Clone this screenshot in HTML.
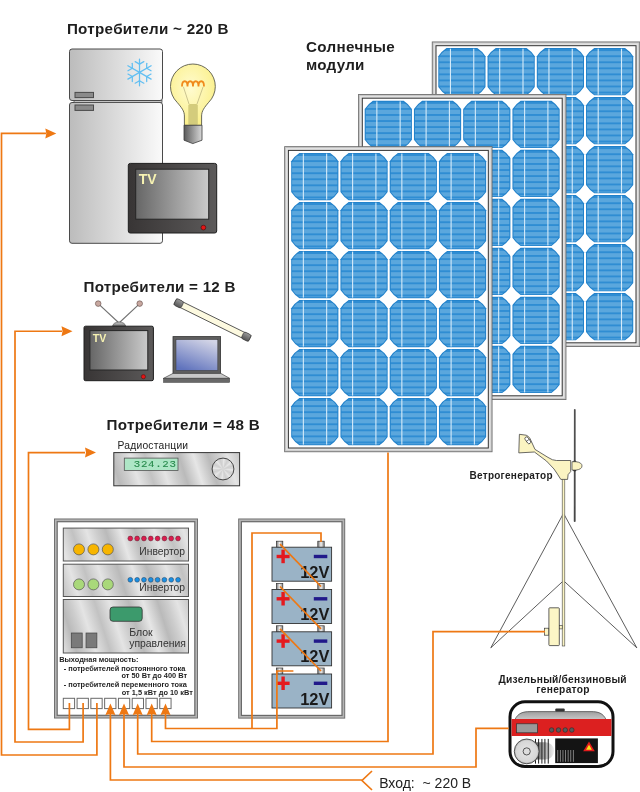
<!DOCTYPE html>
<html><head><meta charset="utf-8"><title>Scheme</title>
<style>
html,body{margin:0;padding:0;background:#fff;}
svg{display:block;will-change:transform;font-family:"Liberation Sans",sans-serif;}
</style></head>
<body>
<svg width="640" height="792" viewBox="0 0 640 792">

<defs>
 <linearGradient id="gFridge" x1="0" x2="1" y1="0" y2="0">
  <stop offset="0" stop-color="#bcbcbc"/><stop offset="1" stop-color="#fafafa"/></linearGradient>
 <linearGradient id="gTVbody" x1="0" x2="1" y1="0" y2="0">
  <stop offset="0" stop-color="#383535"/><stop offset="1" stop-color="#5c5a5a"/></linearGradient>
 <linearGradient id="gScreen" x1="0" x2="1" y1="0" y2="0">
  <stop offset="0" stop-color="#666"/><stop offset="1" stop-color="#cacaca"/></linearGradient>
 <linearGradient id="gLap" x1="0.75" x2="0.25" y1="0" y2="1">
  <stop offset="0" stop-color="#d2d4e6"/><stop offset="1" stop-color="#6073bd"/></linearGradient>
 <linearGradient id="gMetal" gradientUnits="userSpaceOnUse" x1="0" y1="0" x2="44" y2="-14" spreadMethod="reflect">
  <stop offset="0" stop-color="#c2c2c2"/><stop offset="0.3" stop-color="#e4e4e4"/>
  <stop offset="0.5" stop-color="#cdcdcd"/><stop offset="0.7" stop-color="#bababa"/>
  <stop offset="1" stop-color="#e6e6e6"/></linearGradient>
 <linearGradient id="gFrameV" x1="0" x2="1" y1="0" y2="0">
  <stop offset="0" stop-color="#8a8a8a"/><stop offset="0.5" stop-color="#e0e0e0"/><stop offset="1" stop-color="#9a9a9a"/></linearGradient>
 <radialGradient id="gBulb" cx="0.45" cy="0.4" r="0.6">
  <stop offset="0" stop-color="#fffbd0"/><stop offset="1" stop-color="#fbf08a"/></radialGradient>
 <linearGradient id="gBase" x1="0" x2="1" y1="0" y2="0">
  <stop offset="0" stop-color="#5a5a5a"/><stop offset="1" stop-color="#d8d8d8"/></linearGradient>
 <linearGradient id="gCap" x1="0" x2="0" y1="0" y2="1">
  <stop offset="0" stop-color="#9a9a9a"/><stop offset="1" stop-color="#555"/></linearGradient>
 <linearGradient id="gAnt" x1="0" x2="0" y1="0" y2="1">
  <stop offset="0" stop-color="#d0d0d0"/><stop offset="1" stop-color="#6a6a6a"/></linearGradient>
 <radialGradient id="gKnob" cx="0.5" cy="0.5" r="0.5">
  <stop offset="0" stop-color="#f4f4f4"/><stop offset="0.7" stop-color="#d0d0d0"/><stop offset="1" stop-color="#9a9a9a"/></radialGradient>
 <linearGradient id="gDome" x1="0" x2="0" y1="0" y2="1">
  <stop offset="0" stop-color="#9e9e9e"/><stop offset="1" stop-color="#c8c8c8"/></linearGradient>
 <radialGradient id="gFly" cx="0.5" cy="0.5" r="0.5">
  <stop offset="0" stop-color="#e6e6e6"/><stop offset="0.85" stop-color="#d6d6d6"/><stop offset="1" stop-color="#aaaaaa"/></radialGradient>
 <linearGradient id="gCyl" x1="0" x2="1" y1="0" y2="0">
  <stop offset="0" stop-color="#5a5a5a"/><stop offset="0.7" stop-color="#c8c8c8"/><stop offset="1" stop-color="#f0f0f0"/></linearGradient>
 <linearGradient id="gTerm" x1="0" x2="1" y1="0" y2="0">
  <stop offset="0" stop-color="#777"/><stop offset="0.5" stop-color="#f0f0f0"/><stop offset="1" stop-color="#888"/></linearGradient>
 <clipPath id="cellClip"><path transform="translate(0.85,0.85) scale(0.964)" d="M8.2,0 L39,0 Q43.9,3.2 47.2,8.2 L47.2,39 Q43.9,44 39,47.2 L8.2,47.2 Q3.3,44 0,39 L0,8.2 Q3.3,3.2 8.2,0 Z"/></clipPath>
</defs>
<rect x="431.8" y="41.5" width="208.4" height="305.5" fill="#6a6a6a"/>
<rect x="432.6" y="42.3" width="206.8" height="303.9" fill="#c2c2c2"/>
<rect x="433.6" y="43.3" width="204.8" height="301.9" fill="#e2e2e2"/>
<rect x="435.5" y="45.2" width="201.0" height="298.1" fill="#333"/>
<rect x="436.5" y="46.2" width="199.0" height="296.1" fill="#ffffff"/>
<g transform="translate(438.30,48.10)"><path d="M8.2,0 L39,0 Q43.9,3.2 47.2,8.2 L47.2,39 Q43.9,44 39,47.2 L8.2,47.2 Q3.3,44 0,39 L0,8.2 Q3.3,3.2 8.2,0 Z" fill="#2180c9"/>
  <g clip-path="url(#cellClip)" fill="#5ba7dd">
<rect x="0" y="0" width="47.2" height="47.2" fill="#2f8dd3"/><rect x="0.9" y="3.00" width="45.4" height="4.2"/><rect x="0.9" y="9.05" width="45.4" height="4.2"/><rect x="0.9" y="15.10" width="45.4" height="4.2"/><rect x="0.9" y="21.15" width="45.4" height="4.2"/><rect x="0.9" y="27.20" width="45.4" height="4.2"/><rect x="0.9" y="33.25" width="45.4" height="4.2"/><rect x="0.9" y="39.30" width="45.4" height="4.2"/><rect x="0.9" y="45.35" width="45.4" height="2.4"/></g><rect x="11.6" y="0.6" width="1.1" height="46" fill="#d5ebfa"/><rect x="34.9" y="0.6" width="1.1" height="46" fill="#d5ebfa"/></g>
<g transform="translate(487.55,48.10)"><path d="M8.2,0 L39,0 Q43.9,3.2 47.2,8.2 L47.2,39 Q43.9,44 39,47.2 L8.2,47.2 Q3.3,44 0,39 L0,8.2 Q3.3,3.2 8.2,0 Z" fill="#2180c9"/>
  <g clip-path="url(#cellClip)" fill="#5ba7dd">
<rect x="0" y="0" width="47.2" height="47.2" fill="#2f8dd3"/><rect x="0.9" y="3.00" width="45.4" height="4.2"/><rect x="0.9" y="9.05" width="45.4" height="4.2"/><rect x="0.9" y="15.10" width="45.4" height="4.2"/><rect x="0.9" y="21.15" width="45.4" height="4.2"/><rect x="0.9" y="27.20" width="45.4" height="4.2"/><rect x="0.9" y="33.25" width="45.4" height="4.2"/><rect x="0.9" y="39.30" width="45.4" height="4.2"/><rect x="0.9" y="45.35" width="45.4" height="2.4"/></g><rect x="11.6" y="0.6" width="1.1" height="46" fill="#d5ebfa"/><rect x="34.9" y="0.6" width="1.1" height="46" fill="#d5ebfa"/></g>
<g transform="translate(536.80,48.10)"><path d="M8.2,0 L39,0 Q43.9,3.2 47.2,8.2 L47.2,39 Q43.9,44 39,47.2 L8.2,47.2 Q3.3,44 0,39 L0,8.2 Q3.3,3.2 8.2,0 Z" fill="#2180c9"/>
  <g clip-path="url(#cellClip)" fill="#5ba7dd">
<rect x="0" y="0" width="47.2" height="47.2" fill="#2f8dd3"/><rect x="0.9" y="3.00" width="45.4" height="4.2"/><rect x="0.9" y="9.05" width="45.4" height="4.2"/><rect x="0.9" y="15.10" width="45.4" height="4.2"/><rect x="0.9" y="21.15" width="45.4" height="4.2"/><rect x="0.9" y="27.20" width="45.4" height="4.2"/><rect x="0.9" y="33.25" width="45.4" height="4.2"/><rect x="0.9" y="39.30" width="45.4" height="4.2"/><rect x="0.9" y="45.35" width="45.4" height="2.4"/></g><rect x="11.6" y="0.6" width="1.1" height="46" fill="#d5ebfa"/><rect x="34.9" y="0.6" width="1.1" height="46" fill="#d5ebfa"/></g>
<g transform="translate(586.05,48.10)"><path d="M8.2,0 L39,0 Q43.9,3.2 47.2,8.2 L47.2,39 Q43.9,44 39,47.2 L8.2,47.2 Q3.3,44 0,39 L0,8.2 Q3.3,3.2 8.2,0 Z" fill="#2180c9"/>
  <g clip-path="url(#cellClip)" fill="#5ba7dd">
<rect x="0" y="0" width="47.2" height="47.2" fill="#2f8dd3"/><rect x="0.9" y="3.00" width="45.4" height="4.2"/><rect x="0.9" y="9.05" width="45.4" height="4.2"/><rect x="0.9" y="15.10" width="45.4" height="4.2"/><rect x="0.9" y="21.15" width="45.4" height="4.2"/><rect x="0.9" y="27.20" width="45.4" height="4.2"/><rect x="0.9" y="33.25" width="45.4" height="4.2"/><rect x="0.9" y="39.30" width="45.4" height="4.2"/><rect x="0.9" y="45.35" width="45.4" height="2.4"/></g><rect x="11.6" y="0.6" width="1.1" height="46" fill="#d5ebfa"/><rect x="34.9" y="0.6" width="1.1" height="46" fill="#d5ebfa"/></g>
<g transform="translate(438.30,97.10)"><path d="M8.2,0 L39,0 Q43.9,3.2 47.2,8.2 L47.2,39 Q43.9,44 39,47.2 L8.2,47.2 Q3.3,44 0,39 L0,8.2 Q3.3,3.2 8.2,0 Z" fill="#2180c9"/>
  <g clip-path="url(#cellClip)" fill="#5ba7dd">
<rect x="0" y="0" width="47.2" height="47.2" fill="#2f8dd3"/><rect x="0.9" y="3.00" width="45.4" height="4.2"/><rect x="0.9" y="9.05" width="45.4" height="4.2"/><rect x="0.9" y="15.10" width="45.4" height="4.2"/><rect x="0.9" y="21.15" width="45.4" height="4.2"/><rect x="0.9" y="27.20" width="45.4" height="4.2"/><rect x="0.9" y="33.25" width="45.4" height="4.2"/><rect x="0.9" y="39.30" width="45.4" height="4.2"/><rect x="0.9" y="45.35" width="45.4" height="2.4"/></g><rect x="11.6" y="0.6" width="1.1" height="46" fill="#d5ebfa"/><rect x="34.9" y="0.6" width="1.1" height="46" fill="#d5ebfa"/></g>
<g transform="translate(487.55,97.10)"><path d="M8.2,0 L39,0 Q43.9,3.2 47.2,8.2 L47.2,39 Q43.9,44 39,47.2 L8.2,47.2 Q3.3,44 0,39 L0,8.2 Q3.3,3.2 8.2,0 Z" fill="#2180c9"/>
  <g clip-path="url(#cellClip)" fill="#5ba7dd">
<rect x="0" y="0" width="47.2" height="47.2" fill="#2f8dd3"/><rect x="0.9" y="3.00" width="45.4" height="4.2"/><rect x="0.9" y="9.05" width="45.4" height="4.2"/><rect x="0.9" y="15.10" width="45.4" height="4.2"/><rect x="0.9" y="21.15" width="45.4" height="4.2"/><rect x="0.9" y="27.20" width="45.4" height="4.2"/><rect x="0.9" y="33.25" width="45.4" height="4.2"/><rect x="0.9" y="39.30" width="45.4" height="4.2"/><rect x="0.9" y="45.35" width="45.4" height="2.4"/></g><rect x="11.6" y="0.6" width="1.1" height="46" fill="#d5ebfa"/><rect x="34.9" y="0.6" width="1.1" height="46" fill="#d5ebfa"/></g>
<g transform="translate(536.80,97.10)"><path d="M8.2,0 L39,0 Q43.9,3.2 47.2,8.2 L47.2,39 Q43.9,44 39,47.2 L8.2,47.2 Q3.3,44 0,39 L0,8.2 Q3.3,3.2 8.2,0 Z" fill="#2180c9"/>
  <g clip-path="url(#cellClip)" fill="#5ba7dd">
<rect x="0" y="0" width="47.2" height="47.2" fill="#2f8dd3"/><rect x="0.9" y="3.00" width="45.4" height="4.2"/><rect x="0.9" y="9.05" width="45.4" height="4.2"/><rect x="0.9" y="15.10" width="45.4" height="4.2"/><rect x="0.9" y="21.15" width="45.4" height="4.2"/><rect x="0.9" y="27.20" width="45.4" height="4.2"/><rect x="0.9" y="33.25" width="45.4" height="4.2"/><rect x="0.9" y="39.30" width="45.4" height="4.2"/><rect x="0.9" y="45.35" width="45.4" height="2.4"/></g><rect x="11.6" y="0.6" width="1.1" height="46" fill="#d5ebfa"/><rect x="34.9" y="0.6" width="1.1" height="46" fill="#d5ebfa"/></g>
<g transform="translate(586.05,97.10)"><path d="M8.2,0 L39,0 Q43.9,3.2 47.2,8.2 L47.2,39 Q43.9,44 39,47.2 L8.2,47.2 Q3.3,44 0,39 L0,8.2 Q3.3,3.2 8.2,0 Z" fill="#2180c9"/>
  <g clip-path="url(#cellClip)" fill="#5ba7dd">
<rect x="0" y="0" width="47.2" height="47.2" fill="#2f8dd3"/><rect x="0.9" y="3.00" width="45.4" height="4.2"/><rect x="0.9" y="9.05" width="45.4" height="4.2"/><rect x="0.9" y="15.10" width="45.4" height="4.2"/><rect x="0.9" y="21.15" width="45.4" height="4.2"/><rect x="0.9" y="27.20" width="45.4" height="4.2"/><rect x="0.9" y="33.25" width="45.4" height="4.2"/><rect x="0.9" y="39.30" width="45.4" height="4.2"/><rect x="0.9" y="45.35" width="45.4" height="2.4"/></g><rect x="11.6" y="0.6" width="1.1" height="46" fill="#d5ebfa"/><rect x="34.9" y="0.6" width="1.1" height="46" fill="#d5ebfa"/></g>
<g transform="translate(438.30,146.10)"><path d="M8.2,0 L39,0 Q43.9,3.2 47.2,8.2 L47.2,39 Q43.9,44 39,47.2 L8.2,47.2 Q3.3,44 0,39 L0,8.2 Q3.3,3.2 8.2,0 Z" fill="#2180c9"/>
  <g clip-path="url(#cellClip)" fill="#5ba7dd">
<rect x="0" y="0" width="47.2" height="47.2" fill="#2f8dd3"/><rect x="0.9" y="3.00" width="45.4" height="4.2"/><rect x="0.9" y="9.05" width="45.4" height="4.2"/><rect x="0.9" y="15.10" width="45.4" height="4.2"/><rect x="0.9" y="21.15" width="45.4" height="4.2"/><rect x="0.9" y="27.20" width="45.4" height="4.2"/><rect x="0.9" y="33.25" width="45.4" height="4.2"/><rect x="0.9" y="39.30" width="45.4" height="4.2"/><rect x="0.9" y="45.35" width="45.4" height="2.4"/></g><rect x="11.6" y="0.6" width="1.1" height="46" fill="#d5ebfa"/><rect x="34.9" y="0.6" width="1.1" height="46" fill="#d5ebfa"/></g>
<g transform="translate(487.55,146.10)"><path d="M8.2,0 L39,0 Q43.9,3.2 47.2,8.2 L47.2,39 Q43.9,44 39,47.2 L8.2,47.2 Q3.3,44 0,39 L0,8.2 Q3.3,3.2 8.2,0 Z" fill="#2180c9"/>
  <g clip-path="url(#cellClip)" fill="#5ba7dd">
<rect x="0" y="0" width="47.2" height="47.2" fill="#2f8dd3"/><rect x="0.9" y="3.00" width="45.4" height="4.2"/><rect x="0.9" y="9.05" width="45.4" height="4.2"/><rect x="0.9" y="15.10" width="45.4" height="4.2"/><rect x="0.9" y="21.15" width="45.4" height="4.2"/><rect x="0.9" y="27.20" width="45.4" height="4.2"/><rect x="0.9" y="33.25" width="45.4" height="4.2"/><rect x="0.9" y="39.30" width="45.4" height="4.2"/><rect x="0.9" y="45.35" width="45.4" height="2.4"/></g><rect x="11.6" y="0.6" width="1.1" height="46" fill="#d5ebfa"/><rect x="34.9" y="0.6" width="1.1" height="46" fill="#d5ebfa"/></g>
<g transform="translate(536.80,146.10)"><path d="M8.2,0 L39,0 Q43.9,3.2 47.2,8.2 L47.2,39 Q43.9,44 39,47.2 L8.2,47.2 Q3.3,44 0,39 L0,8.2 Q3.3,3.2 8.2,0 Z" fill="#2180c9"/>
  <g clip-path="url(#cellClip)" fill="#5ba7dd">
<rect x="0" y="0" width="47.2" height="47.2" fill="#2f8dd3"/><rect x="0.9" y="3.00" width="45.4" height="4.2"/><rect x="0.9" y="9.05" width="45.4" height="4.2"/><rect x="0.9" y="15.10" width="45.4" height="4.2"/><rect x="0.9" y="21.15" width="45.4" height="4.2"/><rect x="0.9" y="27.20" width="45.4" height="4.2"/><rect x="0.9" y="33.25" width="45.4" height="4.2"/><rect x="0.9" y="39.30" width="45.4" height="4.2"/><rect x="0.9" y="45.35" width="45.4" height="2.4"/></g><rect x="11.6" y="0.6" width="1.1" height="46" fill="#d5ebfa"/><rect x="34.9" y="0.6" width="1.1" height="46" fill="#d5ebfa"/></g>
<g transform="translate(586.05,146.10)"><path d="M8.2,0 L39,0 Q43.9,3.2 47.2,8.2 L47.2,39 Q43.9,44 39,47.2 L8.2,47.2 Q3.3,44 0,39 L0,8.2 Q3.3,3.2 8.2,0 Z" fill="#2180c9"/>
  <g clip-path="url(#cellClip)" fill="#5ba7dd">
<rect x="0" y="0" width="47.2" height="47.2" fill="#2f8dd3"/><rect x="0.9" y="3.00" width="45.4" height="4.2"/><rect x="0.9" y="9.05" width="45.4" height="4.2"/><rect x="0.9" y="15.10" width="45.4" height="4.2"/><rect x="0.9" y="21.15" width="45.4" height="4.2"/><rect x="0.9" y="27.20" width="45.4" height="4.2"/><rect x="0.9" y="33.25" width="45.4" height="4.2"/><rect x="0.9" y="39.30" width="45.4" height="4.2"/><rect x="0.9" y="45.35" width="45.4" height="2.4"/></g><rect x="11.6" y="0.6" width="1.1" height="46" fill="#d5ebfa"/><rect x="34.9" y="0.6" width="1.1" height="46" fill="#d5ebfa"/></g>
<g transform="translate(438.30,195.10)"><path d="M8.2,0 L39,0 Q43.9,3.2 47.2,8.2 L47.2,39 Q43.9,44 39,47.2 L8.2,47.2 Q3.3,44 0,39 L0,8.2 Q3.3,3.2 8.2,0 Z" fill="#2180c9"/>
  <g clip-path="url(#cellClip)" fill="#5ba7dd">
<rect x="0" y="0" width="47.2" height="47.2" fill="#2f8dd3"/><rect x="0.9" y="3.00" width="45.4" height="4.2"/><rect x="0.9" y="9.05" width="45.4" height="4.2"/><rect x="0.9" y="15.10" width="45.4" height="4.2"/><rect x="0.9" y="21.15" width="45.4" height="4.2"/><rect x="0.9" y="27.20" width="45.4" height="4.2"/><rect x="0.9" y="33.25" width="45.4" height="4.2"/><rect x="0.9" y="39.30" width="45.4" height="4.2"/><rect x="0.9" y="45.35" width="45.4" height="2.4"/></g><rect x="11.6" y="0.6" width="1.1" height="46" fill="#d5ebfa"/><rect x="34.9" y="0.6" width="1.1" height="46" fill="#d5ebfa"/></g>
<g transform="translate(487.55,195.10)"><path d="M8.2,0 L39,0 Q43.9,3.2 47.2,8.2 L47.2,39 Q43.9,44 39,47.2 L8.2,47.2 Q3.3,44 0,39 L0,8.2 Q3.3,3.2 8.2,0 Z" fill="#2180c9"/>
  <g clip-path="url(#cellClip)" fill="#5ba7dd">
<rect x="0" y="0" width="47.2" height="47.2" fill="#2f8dd3"/><rect x="0.9" y="3.00" width="45.4" height="4.2"/><rect x="0.9" y="9.05" width="45.4" height="4.2"/><rect x="0.9" y="15.10" width="45.4" height="4.2"/><rect x="0.9" y="21.15" width="45.4" height="4.2"/><rect x="0.9" y="27.20" width="45.4" height="4.2"/><rect x="0.9" y="33.25" width="45.4" height="4.2"/><rect x="0.9" y="39.30" width="45.4" height="4.2"/><rect x="0.9" y="45.35" width="45.4" height="2.4"/></g><rect x="11.6" y="0.6" width="1.1" height="46" fill="#d5ebfa"/><rect x="34.9" y="0.6" width="1.1" height="46" fill="#d5ebfa"/></g>
<g transform="translate(536.80,195.10)"><path d="M8.2,0 L39,0 Q43.9,3.2 47.2,8.2 L47.2,39 Q43.9,44 39,47.2 L8.2,47.2 Q3.3,44 0,39 L0,8.2 Q3.3,3.2 8.2,0 Z" fill="#2180c9"/>
  <g clip-path="url(#cellClip)" fill="#5ba7dd">
<rect x="0" y="0" width="47.2" height="47.2" fill="#2f8dd3"/><rect x="0.9" y="3.00" width="45.4" height="4.2"/><rect x="0.9" y="9.05" width="45.4" height="4.2"/><rect x="0.9" y="15.10" width="45.4" height="4.2"/><rect x="0.9" y="21.15" width="45.4" height="4.2"/><rect x="0.9" y="27.20" width="45.4" height="4.2"/><rect x="0.9" y="33.25" width="45.4" height="4.2"/><rect x="0.9" y="39.30" width="45.4" height="4.2"/><rect x="0.9" y="45.35" width="45.4" height="2.4"/></g><rect x="11.6" y="0.6" width="1.1" height="46" fill="#d5ebfa"/><rect x="34.9" y="0.6" width="1.1" height="46" fill="#d5ebfa"/></g>
<g transform="translate(586.05,195.10)"><path d="M8.2,0 L39,0 Q43.9,3.2 47.2,8.2 L47.2,39 Q43.9,44 39,47.2 L8.2,47.2 Q3.3,44 0,39 L0,8.2 Q3.3,3.2 8.2,0 Z" fill="#2180c9"/>
  <g clip-path="url(#cellClip)" fill="#5ba7dd">
<rect x="0" y="0" width="47.2" height="47.2" fill="#2f8dd3"/><rect x="0.9" y="3.00" width="45.4" height="4.2"/><rect x="0.9" y="9.05" width="45.4" height="4.2"/><rect x="0.9" y="15.10" width="45.4" height="4.2"/><rect x="0.9" y="21.15" width="45.4" height="4.2"/><rect x="0.9" y="27.20" width="45.4" height="4.2"/><rect x="0.9" y="33.25" width="45.4" height="4.2"/><rect x="0.9" y="39.30" width="45.4" height="4.2"/><rect x="0.9" y="45.35" width="45.4" height="2.4"/></g><rect x="11.6" y="0.6" width="1.1" height="46" fill="#d5ebfa"/><rect x="34.9" y="0.6" width="1.1" height="46" fill="#d5ebfa"/></g>
<g transform="translate(438.30,244.10)"><path d="M8.2,0 L39,0 Q43.9,3.2 47.2,8.2 L47.2,39 Q43.9,44 39,47.2 L8.2,47.2 Q3.3,44 0,39 L0,8.2 Q3.3,3.2 8.2,0 Z" fill="#2180c9"/>
  <g clip-path="url(#cellClip)" fill="#5ba7dd">
<rect x="0" y="0" width="47.2" height="47.2" fill="#2f8dd3"/><rect x="0.9" y="3.00" width="45.4" height="4.2"/><rect x="0.9" y="9.05" width="45.4" height="4.2"/><rect x="0.9" y="15.10" width="45.4" height="4.2"/><rect x="0.9" y="21.15" width="45.4" height="4.2"/><rect x="0.9" y="27.20" width="45.4" height="4.2"/><rect x="0.9" y="33.25" width="45.4" height="4.2"/><rect x="0.9" y="39.30" width="45.4" height="4.2"/><rect x="0.9" y="45.35" width="45.4" height="2.4"/></g><rect x="11.6" y="0.6" width="1.1" height="46" fill="#d5ebfa"/><rect x="34.9" y="0.6" width="1.1" height="46" fill="#d5ebfa"/></g>
<g transform="translate(487.55,244.10)"><path d="M8.2,0 L39,0 Q43.9,3.2 47.2,8.2 L47.2,39 Q43.9,44 39,47.2 L8.2,47.2 Q3.3,44 0,39 L0,8.2 Q3.3,3.2 8.2,0 Z" fill="#2180c9"/>
  <g clip-path="url(#cellClip)" fill="#5ba7dd">
<rect x="0" y="0" width="47.2" height="47.2" fill="#2f8dd3"/><rect x="0.9" y="3.00" width="45.4" height="4.2"/><rect x="0.9" y="9.05" width="45.4" height="4.2"/><rect x="0.9" y="15.10" width="45.4" height="4.2"/><rect x="0.9" y="21.15" width="45.4" height="4.2"/><rect x="0.9" y="27.20" width="45.4" height="4.2"/><rect x="0.9" y="33.25" width="45.4" height="4.2"/><rect x="0.9" y="39.30" width="45.4" height="4.2"/><rect x="0.9" y="45.35" width="45.4" height="2.4"/></g><rect x="11.6" y="0.6" width="1.1" height="46" fill="#d5ebfa"/><rect x="34.9" y="0.6" width="1.1" height="46" fill="#d5ebfa"/></g>
<g transform="translate(536.80,244.10)"><path d="M8.2,0 L39,0 Q43.9,3.2 47.2,8.2 L47.2,39 Q43.9,44 39,47.2 L8.2,47.2 Q3.3,44 0,39 L0,8.2 Q3.3,3.2 8.2,0 Z" fill="#2180c9"/>
  <g clip-path="url(#cellClip)" fill="#5ba7dd">
<rect x="0" y="0" width="47.2" height="47.2" fill="#2f8dd3"/><rect x="0.9" y="3.00" width="45.4" height="4.2"/><rect x="0.9" y="9.05" width="45.4" height="4.2"/><rect x="0.9" y="15.10" width="45.4" height="4.2"/><rect x="0.9" y="21.15" width="45.4" height="4.2"/><rect x="0.9" y="27.20" width="45.4" height="4.2"/><rect x="0.9" y="33.25" width="45.4" height="4.2"/><rect x="0.9" y="39.30" width="45.4" height="4.2"/><rect x="0.9" y="45.35" width="45.4" height="2.4"/></g><rect x="11.6" y="0.6" width="1.1" height="46" fill="#d5ebfa"/><rect x="34.9" y="0.6" width="1.1" height="46" fill="#d5ebfa"/></g>
<g transform="translate(586.05,244.10)"><path d="M8.2,0 L39,0 Q43.9,3.2 47.2,8.2 L47.2,39 Q43.9,44 39,47.2 L8.2,47.2 Q3.3,44 0,39 L0,8.2 Q3.3,3.2 8.2,0 Z" fill="#2180c9"/>
  <g clip-path="url(#cellClip)" fill="#5ba7dd">
<rect x="0" y="0" width="47.2" height="47.2" fill="#2f8dd3"/><rect x="0.9" y="3.00" width="45.4" height="4.2"/><rect x="0.9" y="9.05" width="45.4" height="4.2"/><rect x="0.9" y="15.10" width="45.4" height="4.2"/><rect x="0.9" y="21.15" width="45.4" height="4.2"/><rect x="0.9" y="27.20" width="45.4" height="4.2"/><rect x="0.9" y="33.25" width="45.4" height="4.2"/><rect x="0.9" y="39.30" width="45.4" height="4.2"/><rect x="0.9" y="45.35" width="45.4" height="2.4"/></g><rect x="11.6" y="0.6" width="1.1" height="46" fill="#d5ebfa"/><rect x="34.9" y="0.6" width="1.1" height="46" fill="#d5ebfa"/></g>
<g transform="translate(438.30,293.10)"><path d="M8.2,0 L39,0 Q43.9,3.2 47.2,8.2 L47.2,39 Q43.9,44 39,47.2 L8.2,47.2 Q3.3,44 0,39 L0,8.2 Q3.3,3.2 8.2,0 Z" fill="#2180c9"/>
  <g clip-path="url(#cellClip)" fill="#5ba7dd">
<rect x="0" y="0" width="47.2" height="47.2" fill="#2f8dd3"/><rect x="0.9" y="3.00" width="45.4" height="4.2"/><rect x="0.9" y="9.05" width="45.4" height="4.2"/><rect x="0.9" y="15.10" width="45.4" height="4.2"/><rect x="0.9" y="21.15" width="45.4" height="4.2"/><rect x="0.9" y="27.20" width="45.4" height="4.2"/><rect x="0.9" y="33.25" width="45.4" height="4.2"/><rect x="0.9" y="39.30" width="45.4" height="4.2"/><rect x="0.9" y="45.35" width="45.4" height="2.4"/></g><rect x="11.6" y="0.6" width="1.1" height="46" fill="#d5ebfa"/><rect x="34.9" y="0.6" width="1.1" height="46" fill="#d5ebfa"/></g>
<g transform="translate(487.55,293.10)"><path d="M8.2,0 L39,0 Q43.9,3.2 47.2,8.2 L47.2,39 Q43.9,44 39,47.2 L8.2,47.2 Q3.3,44 0,39 L0,8.2 Q3.3,3.2 8.2,0 Z" fill="#2180c9"/>
  <g clip-path="url(#cellClip)" fill="#5ba7dd">
<rect x="0" y="0" width="47.2" height="47.2" fill="#2f8dd3"/><rect x="0.9" y="3.00" width="45.4" height="4.2"/><rect x="0.9" y="9.05" width="45.4" height="4.2"/><rect x="0.9" y="15.10" width="45.4" height="4.2"/><rect x="0.9" y="21.15" width="45.4" height="4.2"/><rect x="0.9" y="27.20" width="45.4" height="4.2"/><rect x="0.9" y="33.25" width="45.4" height="4.2"/><rect x="0.9" y="39.30" width="45.4" height="4.2"/><rect x="0.9" y="45.35" width="45.4" height="2.4"/></g><rect x="11.6" y="0.6" width="1.1" height="46" fill="#d5ebfa"/><rect x="34.9" y="0.6" width="1.1" height="46" fill="#d5ebfa"/></g>
<g transform="translate(536.80,293.10)"><path d="M8.2,0 L39,0 Q43.9,3.2 47.2,8.2 L47.2,39 Q43.9,44 39,47.2 L8.2,47.2 Q3.3,44 0,39 L0,8.2 Q3.3,3.2 8.2,0 Z" fill="#2180c9"/>
  <g clip-path="url(#cellClip)" fill="#5ba7dd">
<rect x="0" y="0" width="47.2" height="47.2" fill="#2f8dd3"/><rect x="0.9" y="3.00" width="45.4" height="4.2"/><rect x="0.9" y="9.05" width="45.4" height="4.2"/><rect x="0.9" y="15.10" width="45.4" height="4.2"/><rect x="0.9" y="21.15" width="45.4" height="4.2"/><rect x="0.9" y="27.20" width="45.4" height="4.2"/><rect x="0.9" y="33.25" width="45.4" height="4.2"/><rect x="0.9" y="39.30" width="45.4" height="4.2"/><rect x="0.9" y="45.35" width="45.4" height="2.4"/></g><rect x="11.6" y="0.6" width="1.1" height="46" fill="#d5ebfa"/><rect x="34.9" y="0.6" width="1.1" height="46" fill="#d5ebfa"/></g>
<g transform="translate(586.05,293.10)"><path d="M8.2,0 L39,0 Q43.9,3.2 47.2,8.2 L47.2,39 Q43.9,44 39,47.2 L8.2,47.2 Q3.3,44 0,39 L0,8.2 Q3.3,3.2 8.2,0 Z" fill="#2180c9"/>
  <g clip-path="url(#cellClip)" fill="#5ba7dd">
<rect x="0" y="0" width="47.2" height="47.2" fill="#2f8dd3"/><rect x="0.9" y="3.00" width="45.4" height="4.2"/><rect x="0.9" y="9.05" width="45.4" height="4.2"/><rect x="0.9" y="15.10" width="45.4" height="4.2"/><rect x="0.9" y="21.15" width="45.4" height="4.2"/><rect x="0.9" y="27.20" width="45.4" height="4.2"/><rect x="0.9" y="33.25" width="45.4" height="4.2"/><rect x="0.9" y="39.30" width="45.4" height="4.2"/><rect x="0.9" y="45.35" width="45.4" height="2.4"/></g><rect x="11.6" y="0.6" width="1.1" height="46" fill="#d5ebfa"/><rect x="34.9" y="0.6" width="1.1" height="46" fill="#d5ebfa"/></g>
<rect x="358.1" y="94" width="208.3" height="306" fill="#6a6a6a"/>
<rect x="358.90000000000003" y="94.8" width="206.70000000000002" height="304.4" fill="#c2c2c2"/>
<rect x="359.90000000000003" y="95.8" width="204.70000000000002" height="302.4" fill="#e2e2e2"/>
<rect x="361.8" y="97.7" width="200.9" height="298.6" fill="#333"/>
<rect x="362.8" y="98.7" width="198.9" height="296.6" fill="#ffffff"/>
<g transform="translate(364.70,100.80)"><path d="M8.2,0 L39,0 Q43.9,3.2 47.2,8.2 L47.2,39 Q43.9,44 39,47.2 L8.2,47.2 Q3.3,44 0,39 L0,8.2 Q3.3,3.2 8.2,0 Z" fill="#2180c9"/>
  <g clip-path="url(#cellClip)" fill="#5ba7dd">
<rect x="0" y="0" width="47.2" height="47.2" fill="#2f8dd3"/><rect x="0.9" y="3.00" width="45.4" height="4.2"/><rect x="0.9" y="9.05" width="45.4" height="4.2"/><rect x="0.9" y="15.10" width="45.4" height="4.2"/><rect x="0.9" y="21.15" width="45.4" height="4.2"/><rect x="0.9" y="27.20" width="45.4" height="4.2"/><rect x="0.9" y="33.25" width="45.4" height="4.2"/><rect x="0.9" y="39.30" width="45.4" height="4.2"/><rect x="0.9" y="45.35" width="45.4" height="2.4"/></g><rect x="11.6" y="0.6" width="1.1" height="46" fill="#d5ebfa"/><rect x="34.9" y="0.6" width="1.1" height="46" fill="#d5ebfa"/></g>
<g transform="translate(413.95,100.80)"><path d="M8.2,0 L39,0 Q43.9,3.2 47.2,8.2 L47.2,39 Q43.9,44 39,47.2 L8.2,47.2 Q3.3,44 0,39 L0,8.2 Q3.3,3.2 8.2,0 Z" fill="#2180c9"/>
  <g clip-path="url(#cellClip)" fill="#5ba7dd">
<rect x="0" y="0" width="47.2" height="47.2" fill="#2f8dd3"/><rect x="0.9" y="3.00" width="45.4" height="4.2"/><rect x="0.9" y="9.05" width="45.4" height="4.2"/><rect x="0.9" y="15.10" width="45.4" height="4.2"/><rect x="0.9" y="21.15" width="45.4" height="4.2"/><rect x="0.9" y="27.20" width="45.4" height="4.2"/><rect x="0.9" y="33.25" width="45.4" height="4.2"/><rect x="0.9" y="39.30" width="45.4" height="4.2"/><rect x="0.9" y="45.35" width="45.4" height="2.4"/></g><rect x="11.6" y="0.6" width="1.1" height="46" fill="#d5ebfa"/><rect x="34.9" y="0.6" width="1.1" height="46" fill="#d5ebfa"/></g>
<g transform="translate(463.20,100.80)"><path d="M8.2,0 L39,0 Q43.9,3.2 47.2,8.2 L47.2,39 Q43.9,44 39,47.2 L8.2,47.2 Q3.3,44 0,39 L0,8.2 Q3.3,3.2 8.2,0 Z" fill="#2180c9"/>
  <g clip-path="url(#cellClip)" fill="#5ba7dd">
<rect x="0" y="0" width="47.2" height="47.2" fill="#2f8dd3"/><rect x="0.9" y="3.00" width="45.4" height="4.2"/><rect x="0.9" y="9.05" width="45.4" height="4.2"/><rect x="0.9" y="15.10" width="45.4" height="4.2"/><rect x="0.9" y="21.15" width="45.4" height="4.2"/><rect x="0.9" y="27.20" width="45.4" height="4.2"/><rect x="0.9" y="33.25" width="45.4" height="4.2"/><rect x="0.9" y="39.30" width="45.4" height="4.2"/><rect x="0.9" y="45.35" width="45.4" height="2.4"/></g><rect x="11.6" y="0.6" width="1.1" height="46" fill="#d5ebfa"/><rect x="34.9" y="0.6" width="1.1" height="46" fill="#d5ebfa"/></g>
<g transform="translate(512.45,100.80)"><path d="M8.2,0 L39,0 Q43.9,3.2 47.2,8.2 L47.2,39 Q43.9,44 39,47.2 L8.2,47.2 Q3.3,44 0,39 L0,8.2 Q3.3,3.2 8.2,0 Z" fill="#2180c9"/>
  <g clip-path="url(#cellClip)" fill="#5ba7dd">
<rect x="0" y="0" width="47.2" height="47.2" fill="#2f8dd3"/><rect x="0.9" y="3.00" width="45.4" height="4.2"/><rect x="0.9" y="9.05" width="45.4" height="4.2"/><rect x="0.9" y="15.10" width="45.4" height="4.2"/><rect x="0.9" y="21.15" width="45.4" height="4.2"/><rect x="0.9" y="27.20" width="45.4" height="4.2"/><rect x="0.9" y="33.25" width="45.4" height="4.2"/><rect x="0.9" y="39.30" width="45.4" height="4.2"/><rect x="0.9" y="45.35" width="45.4" height="2.4"/></g><rect x="11.6" y="0.6" width="1.1" height="46" fill="#d5ebfa"/><rect x="34.9" y="0.6" width="1.1" height="46" fill="#d5ebfa"/></g>
<g transform="translate(364.70,149.80)"><path d="M8.2,0 L39,0 Q43.9,3.2 47.2,8.2 L47.2,39 Q43.9,44 39,47.2 L8.2,47.2 Q3.3,44 0,39 L0,8.2 Q3.3,3.2 8.2,0 Z" fill="#2180c9"/>
  <g clip-path="url(#cellClip)" fill="#5ba7dd">
<rect x="0" y="0" width="47.2" height="47.2" fill="#2f8dd3"/><rect x="0.9" y="3.00" width="45.4" height="4.2"/><rect x="0.9" y="9.05" width="45.4" height="4.2"/><rect x="0.9" y="15.10" width="45.4" height="4.2"/><rect x="0.9" y="21.15" width="45.4" height="4.2"/><rect x="0.9" y="27.20" width="45.4" height="4.2"/><rect x="0.9" y="33.25" width="45.4" height="4.2"/><rect x="0.9" y="39.30" width="45.4" height="4.2"/><rect x="0.9" y="45.35" width="45.4" height="2.4"/></g><rect x="11.6" y="0.6" width="1.1" height="46" fill="#d5ebfa"/><rect x="34.9" y="0.6" width="1.1" height="46" fill="#d5ebfa"/></g>
<g transform="translate(413.95,149.80)"><path d="M8.2,0 L39,0 Q43.9,3.2 47.2,8.2 L47.2,39 Q43.9,44 39,47.2 L8.2,47.2 Q3.3,44 0,39 L0,8.2 Q3.3,3.2 8.2,0 Z" fill="#2180c9"/>
  <g clip-path="url(#cellClip)" fill="#5ba7dd">
<rect x="0" y="0" width="47.2" height="47.2" fill="#2f8dd3"/><rect x="0.9" y="3.00" width="45.4" height="4.2"/><rect x="0.9" y="9.05" width="45.4" height="4.2"/><rect x="0.9" y="15.10" width="45.4" height="4.2"/><rect x="0.9" y="21.15" width="45.4" height="4.2"/><rect x="0.9" y="27.20" width="45.4" height="4.2"/><rect x="0.9" y="33.25" width="45.4" height="4.2"/><rect x="0.9" y="39.30" width="45.4" height="4.2"/><rect x="0.9" y="45.35" width="45.4" height="2.4"/></g><rect x="11.6" y="0.6" width="1.1" height="46" fill="#d5ebfa"/><rect x="34.9" y="0.6" width="1.1" height="46" fill="#d5ebfa"/></g>
<g transform="translate(463.20,149.80)"><path d="M8.2,0 L39,0 Q43.9,3.2 47.2,8.2 L47.2,39 Q43.9,44 39,47.2 L8.2,47.2 Q3.3,44 0,39 L0,8.2 Q3.3,3.2 8.2,0 Z" fill="#2180c9"/>
  <g clip-path="url(#cellClip)" fill="#5ba7dd">
<rect x="0" y="0" width="47.2" height="47.2" fill="#2f8dd3"/><rect x="0.9" y="3.00" width="45.4" height="4.2"/><rect x="0.9" y="9.05" width="45.4" height="4.2"/><rect x="0.9" y="15.10" width="45.4" height="4.2"/><rect x="0.9" y="21.15" width="45.4" height="4.2"/><rect x="0.9" y="27.20" width="45.4" height="4.2"/><rect x="0.9" y="33.25" width="45.4" height="4.2"/><rect x="0.9" y="39.30" width="45.4" height="4.2"/><rect x="0.9" y="45.35" width="45.4" height="2.4"/></g><rect x="11.6" y="0.6" width="1.1" height="46" fill="#d5ebfa"/><rect x="34.9" y="0.6" width="1.1" height="46" fill="#d5ebfa"/></g>
<g transform="translate(512.45,149.80)"><path d="M8.2,0 L39,0 Q43.9,3.2 47.2,8.2 L47.2,39 Q43.9,44 39,47.2 L8.2,47.2 Q3.3,44 0,39 L0,8.2 Q3.3,3.2 8.2,0 Z" fill="#2180c9"/>
  <g clip-path="url(#cellClip)" fill="#5ba7dd">
<rect x="0" y="0" width="47.2" height="47.2" fill="#2f8dd3"/><rect x="0.9" y="3.00" width="45.4" height="4.2"/><rect x="0.9" y="9.05" width="45.4" height="4.2"/><rect x="0.9" y="15.10" width="45.4" height="4.2"/><rect x="0.9" y="21.15" width="45.4" height="4.2"/><rect x="0.9" y="27.20" width="45.4" height="4.2"/><rect x="0.9" y="33.25" width="45.4" height="4.2"/><rect x="0.9" y="39.30" width="45.4" height="4.2"/><rect x="0.9" y="45.35" width="45.4" height="2.4"/></g><rect x="11.6" y="0.6" width="1.1" height="46" fill="#d5ebfa"/><rect x="34.9" y="0.6" width="1.1" height="46" fill="#d5ebfa"/></g>
<g transform="translate(364.70,198.80)"><path d="M8.2,0 L39,0 Q43.9,3.2 47.2,8.2 L47.2,39 Q43.9,44 39,47.2 L8.2,47.2 Q3.3,44 0,39 L0,8.2 Q3.3,3.2 8.2,0 Z" fill="#2180c9"/>
  <g clip-path="url(#cellClip)" fill="#5ba7dd">
<rect x="0" y="0" width="47.2" height="47.2" fill="#2f8dd3"/><rect x="0.9" y="3.00" width="45.4" height="4.2"/><rect x="0.9" y="9.05" width="45.4" height="4.2"/><rect x="0.9" y="15.10" width="45.4" height="4.2"/><rect x="0.9" y="21.15" width="45.4" height="4.2"/><rect x="0.9" y="27.20" width="45.4" height="4.2"/><rect x="0.9" y="33.25" width="45.4" height="4.2"/><rect x="0.9" y="39.30" width="45.4" height="4.2"/><rect x="0.9" y="45.35" width="45.4" height="2.4"/></g><rect x="11.6" y="0.6" width="1.1" height="46" fill="#d5ebfa"/><rect x="34.9" y="0.6" width="1.1" height="46" fill="#d5ebfa"/></g>
<g transform="translate(413.95,198.80)"><path d="M8.2,0 L39,0 Q43.9,3.2 47.2,8.2 L47.2,39 Q43.9,44 39,47.2 L8.2,47.2 Q3.3,44 0,39 L0,8.2 Q3.3,3.2 8.2,0 Z" fill="#2180c9"/>
  <g clip-path="url(#cellClip)" fill="#5ba7dd">
<rect x="0" y="0" width="47.2" height="47.2" fill="#2f8dd3"/><rect x="0.9" y="3.00" width="45.4" height="4.2"/><rect x="0.9" y="9.05" width="45.4" height="4.2"/><rect x="0.9" y="15.10" width="45.4" height="4.2"/><rect x="0.9" y="21.15" width="45.4" height="4.2"/><rect x="0.9" y="27.20" width="45.4" height="4.2"/><rect x="0.9" y="33.25" width="45.4" height="4.2"/><rect x="0.9" y="39.30" width="45.4" height="4.2"/><rect x="0.9" y="45.35" width="45.4" height="2.4"/></g><rect x="11.6" y="0.6" width="1.1" height="46" fill="#d5ebfa"/><rect x="34.9" y="0.6" width="1.1" height="46" fill="#d5ebfa"/></g>
<g transform="translate(463.20,198.80)"><path d="M8.2,0 L39,0 Q43.9,3.2 47.2,8.2 L47.2,39 Q43.9,44 39,47.2 L8.2,47.2 Q3.3,44 0,39 L0,8.2 Q3.3,3.2 8.2,0 Z" fill="#2180c9"/>
  <g clip-path="url(#cellClip)" fill="#5ba7dd">
<rect x="0" y="0" width="47.2" height="47.2" fill="#2f8dd3"/><rect x="0.9" y="3.00" width="45.4" height="4.2"/><rect x="0.9" y="9.05" width="45.4" height="4.2"/><rect x="0.9" y="15.10" width="45.4" height="4.2"/><rect x="0.9" y="21.15" width="45.4" height="4.2"/><rect x="0.9" y="27.20" width="45.4" height="4.2"/><rect x="0.9" y="33.25" width="45.4" height="4.2"/><rect x="0.9" y="39.30" width="45.4" height="4.2"/><rect x="0.9" y="45.35" width="45.4" height="2.4"/></g><rect x="11.6" y="0.6" width="1.1" height="46" fill="#d5ebfa"/><rect x="34.9" y="0.6" width="1.1" height="46" fill="#d5ebfa"/></g>
<g transform="translate(512.45,198.80)"><path d="M8.2,0 L39,0 Q43.9,3.2 47.2,8.2 L47.2,39 Q43.9,44 39,47.2 L8.2,47.2 Q3.3,44 0,39 L0,8.2 Q3.3,3.2 8.2,0 Z" fill="#2180c9"/>
  <g clip-path="url(#cellClip)" fill="#5ba7dd">
<rect x="0" y="0" width="47.2" height="47.2" fill="#2f8dd3"/><rect x="0.9" y="3.00" width="45.4" height="4.2"/><rect x="0.9" y="9.05" width="45.4" height="4.2"/><rect x="0.9" y="15.10" width="45.4" height="4.2"/><rect x="0.9" y="21.15" width="45.4" height="4.2"/><rect x="0.9" y="27.20" width="45.4" height="4.2"/><rect x="0.9" y="33.25" width="45.4" height="4.2"/><rect x="0.9" y="39.30" width="45.4" height="4.2"/><rect x="0.9" y="45.35" width="45.4" height="2.4"/></g><rect x="11.6" y="0.6" width="1.1" height="46" fill="#d5ebfa"/><rect x="34.9" y="0.6" width="1.1" height="46" fill="#d5ebfa"/></g>
<g transform="translate(364.70,247.80)"><path d="M8.2,0 L39,0 Q43.9,3.2 47.2,8.2 L47.2,39 Q43.9,44 39,47.2 L8.2,47.2 Q3.3,44 0,39 L0,8.2 Q3.3,3.2 8.2,0 Z" fill="#2180c9"/>
  <g clip-path="url(#cellClip)" fill="#5ba7dd">
<rect x="0" y="0" width="47.2" height="47.2" fill="#2f8dd3"/><rect x="0.9" y="3.00" width="45.4" height="4.2"/><rect x="0.9" y="9.05" width="45.4" height="4.2"/><rect x="0.9" y="15.10" width="45.4" height="4.2"/><rect x="0.9" y="21.15" width="45.4" height="4.2"/><rect x="0.9" y="27.20" width="45.4" height="4.2"/><rect x="0.9" y="33.25" width="45.4" height="4.2"/><rect x="0.9" y="39.30" width="45.4" height="4.2"/><rect x="0.9" y="45.35" width="45.4" height="2.4"/></g><rect x="11.6" y="0.6" width="1.1" height="46" fill="#d5ebfa"/><rect x="34.9" y="0.6" width="1.1" height="46" fill="#d5ebfa"/></g>
<g transform="translate(413.95,247.80)"><path d="M8.2,0 L39,0 Q43.9,3.2 47.2,8.2 L47.2,39 Q43.9,44 39,47.2 L8.2,47.2 Q3.3,44 0,39 L0,8.2 Q3.3,3.2 8.2,0 Z" fill="#2180c9"/>
  <g clip-path="url(#cellClip)" fill="#5ba7dd">
<rect x="0" y="0" width="47.2" height="47.2" fill="#2f8dd3"/><rect x="0.9" y="3.00" width="45.4" height="4.2"/><rect x="0.9" y="9.05" width="45.4" height="4.2"/><rect x="0.9" y="15.10" width="45.4" height="4.2"/><rect x="0.9" y="21.15" width="45.4" height="4.2"/><rect x="0.9" y="27.20" width="45.4" height="4.2"/><rect x="0.9" y="33.25" width="45.4" height="4.2"/><rect x="0.9" y="39.30" width="45.4" height="4.2"/><rect x="0.9" y="45.35" width="45.4" height="2.4"/></g><rect x="11.6" y="0.6" width="1.1" height="46" fill="#d5ebfa"/><rect x="34.9" y="0.6" width="1.1" height="46" fill="#d5ebfa"/></g>
<g transform="translate(463.20,247.80)"><path d="M8.2,0 L39,0 Q43.9,3.2 47.2,8.2 L47.2,39 Q43.9,44 39,47.2 L8.2,47.2 Q3.3,44 0,39 L0,8.2 Q3.3,3.2 8.2,0 Z" fill="#2180c9"/>
  <g clip-path="url(#cellClip)" fill="#5ba7dd">
<rect x="0" y="0" width="47.2" height="47.2" fill="#2f8dd3"/><rect x="0.9" y="3.00" width="45.4" height="4.2"/><rect x="0.9" y="9.05" width="45.4" height="4.2"/><rect x="0.9" y="15.10" width="45.4" height="4.2"/><rect x="0.9" y="21.15" width="45.4" height="4.2"/><rect x="0.9" y="27.20" width="45.4" height="4.2"/><rect x="0.9" y="33.25" width="45.4" height="4.2"/><rect x="0.9" y="39.30" width="45.4" height="4.2"/><rect x="0.9" y="45.35" width="45.4" height="2.4"/></g><rect x="11.6" y="0.6" width="1.1" height="46" fill="#d5ebfa"/><rect x="34.9" y="0.6" width="1.1" height="46" fill="#d5ebfa"/></g>
<g transform="translate(512.45,247.80)"><path d="M8.2,0 L39,0 Q43.9,3.2 47.2,8.2 L47.2,39 Q43.9,44 39,47.2 L8.2,47.2 Q3.3,44 0,39 L0,8.2 Q3.3,3.2 8.2,0 Z" fill="#2180c9"/>
  <g clip-path="url(#cellClip)" fill="#5ba7dd">
<rect x="0" y="0" width="47.2" height="47.2" fill="#2f8dd3"/><rect x="0.9" y="3.00" width="45.4" height="4.2"/><rect x="0.9" y="9.05" width="45.4" height="4.2"/><rect x="0.9" y="15.10" width="45.4" height="4.2"/><rect x="0.9" y="21.15" width="45.4" height="4.2"/><rect x="0.9" y="27.20" width="45.4" height="4.2"/><rect x="0.9" y="33.25" width="45.4" height="4.2"/><rect x="0.9" y="39.30" width="45.4" height="4.2"/><rect x="0.9" y="45.35" width="45.4" height="2.4"/></g><rect x="11.6" y="0.6" width="1.1" height="46" fill="#d5ebfa"/><rect x="34.9" y="0.6" width="1.1" height="46" fill="#d5ebfa"/></g>
<g transform="translate(364.70,296.80)"><path d="M8.2,0 L39,0 Q43.9,3.2 47.2,8.2 L47.2,39 Q43.9,44 39,47.2 L8.2,47.2 Q3.3,44 0,39 L0,8.2 Q3.3,3.2 8.2,0 Z" fill="#2180c9"/>
  <g clip-path="url(#cellClip)" fill="#5ba7dd">
<rect x="0" y="0" width="47.2" height="47.2" fill="#2f8dd3"/><rect x="0.9" y="3.00" width="45.4" height="4.2"/><rect x="0.9" y="9.05" width="45.4" height="4.2"/><rect x="0.9" y="15.10" width="45.4" height="4.2"/><rect x="0.9" y="21.15" width="45.4" height="4.2"/><rect x="0.9" y="27.20" width="45.4" height="4.2"/><rect x="0.9" y="33.25" width="45.4" height="4.2"/><rect x="0.9" y="39.30" width="45.4" height="4.2"/><rect x="0.9" y="45.35" width="45.4" height="2.4"/></g><rect x="11.6" y="0.6" width="1.1" height="46" fill="#d5ebfa"/><rect x="34.9" y="0.6" width="1.1" height="46" fill="#d5ebfa"/></g>
<g transform="translate(413.95,296.80)"><path d="M8.2,0 L39,0 Q43.9,3.2 47.2,8.2 L47.2,39 Q43.9,44 39,47.2 L8.2,47.2 Q3.3,44 0,39 L0,8.2 Q3.3,3.2 8.2,0 Z" fill="#2180c9"/>
  <g clip-path="url(#cellClip)" fill="#5ba7dd">
<rect x="0" y="0" width="47.2" height="47.2" fill="#2f8dd3"/><rect x="0.9" y="3.00" width="45.4" height="4.2"/><rect x="0.9" y="9.05" width="45.4" height="4.2"/><rect x="0.9" y="15.10" width="45.4" height="4.2"/><rect x="0.9" y="21.15" width="45.4" height="4.2"/><rect x="0.9" y="27.20" width="45.4" height="4.2"/><rect x="0.9" y="33.25" width="45.4" height="4.2"/><rect x="0.9" y="39.30" width="45.4" height="4.2"/><rect x="0.9" y="45.35" width="45.4" height="2.4"/></g><rect x="11.6" y="0.6" width="1.1" height="46" fill="#d5ebfa"/><rect x="34.9" y="0.6" width="1.1" height="46" fill="#d5ebfa"/></g>
<g transform="translate(463.20,296.80)"><path d="M8.2,0 L39,0 Q43.9,3.2 47.2,8.2 L47.2,39 Q43.9,44 39,47.2 L8.2,47.2 Q3.3,44 0,39 L0,8.2 Q3.3,3.2 8.2,0 Z" fill="#2180c9"/>
  <g clip-path="url(#cellClip)" fill="#5ba7dd">
<rect x="0" y="0" width="47.2" height="47.2" fill="#2f8dd3"/><rect x="0.9" y="3.00" width="45.4" height="4.2"/><rect x="0.9" y="9.05" width="45.4" height="4.2"/><rect x="0.9" y="15.10" width="45.4" height="4.2"/><rect x="0.9" y="21.15" width="45.4" height="4.2"/><rect x="0.9" y="27.20" width="45.4" height="4.2"/><rect x="0.9" y="33.25" width="45.4" height="4.2"/><rect x="0.9" y="39.30" width="45.4" height="4.2"/><rect x="0.9" y="45.35" width="45.4" height="2.4"/></g><rect x="11.6" y="0.6" width="1.1" height="46" fill="#d5ebfa"/><rect x="34.9" y="0.6" width="1.1" height="46" fill="#d5ebfa"/></g>
<g transform="translate(512.45,296.80)"><path d="M8.2,0 L39,0 Q43.9,3.2 47.2,8.2 L47.2,39 Q43.9,44 39,47.2 L8.2,47.2 Q3.3,44 0,39 L0,8.2 Q3.3,3.2 8.2,0 Z" fill="#2180c9"/>
  <g clip-path="url(#cellClip)" fill="#5ba7dd">
<rect x="0" y="0" width="47.2" height="47.2" fill="#2f8dd3"/><rect x="0.9" y="3.00" width="45.4" height="4.2"/><rect x="0.9" y="9.05" width="45.4" height="4.2"/><rect x="0.9" y="15.10" width="45.4" height="4.2"/><rect x="0.9" y="21.15" width="45.4" height="4.2"/><rect x="0.9" y="27.20" width="45.4" height="4.2"/><rect x="0.9" y="33.25" width="45.4" height="4.2"/><rect x="0.9" y="39.30" width="45.4" height="4.2"/><rect x="0.9" y="45.35" width="45.4" height="2.4"/></g><rect x="11.6" y="0.6" width="1.1" height="46" fill="#d5ebfa"/><rect x="34.9" y="0.6" width="1.1" height="46" fill="#d5ebfa"/></g>
<g transform="translate(364.70,345.80)"><path d="M8.2,0 L39,0 Q43.9,3.2 47.2,8.2 L47.2,39 Q43.9,44 39,47.2 L8.2,47.2 Q3.3,44 0,39 L0,8.2 Q3.3,3.2 8.2,0 Z" fill="#2180c9"/>
  <g clip-path="url(#cellClip)" fill="#5ba7dd">
<rect x="0" y="0" width="47.2" height="47.2" fill="#2f8dd3"/><rect x="0.9" y="3.00" width="45.4" height="4.2"/><rect x="0.9" y="9.05" width="45.4" height="4.2"/><rect x="0.9" y="15.10" width="45.4" height="4.2"/><rect x="0.9" y="21.15" width="45.4" height="4.2"/><rect x="0.9" y="27.20" width="45.4" height="4.2"/><rect x="0.9" y="33.25" width="45.4" height="4.2"/><rect x="0.9" y="39.30" width="45.4" height="4.2"/><rect x="0.9" y="45.35" width="45.4" height="2.4"/></g><rect x="11.6" y="0.6" width="1.1" height="46" fill="#d5ebfa"/><rect x="34.9" y="0.6" width="1.1" height="46" fill="#d5ebfa"/></g>
<g transform="translate(413.95,345.80)"><path d="M8.2,0 L39,0 Q43.9,3.2 47.2,8.2 L47.2,39 Q43.9,44 39,47.2 L8.2,47.2 Q3.3,44 0,39 L0,8.2 Q3.3,3.2 8.2,0 Z" fill="#2180c9"/>
  <g clip-path="url(#cellClip)" fill="#5ba7dd">
<rect x="0" y="0" width="47.2" height="47.2" fill="#2f8dd3"/><rect x="0.9" y="3.00" width="45.4" height="4.2"/><rect x="0.9" y="9.05" width="45.4" height="4.2"/><rect x="0.9" y="15.10" width="45.4" height="4.2"/><rect x="0.9" y="21.15" width="45.4" height="4.2"/><rect x="0.9" y="27.20" width="45.4" height="4.2"/><rect x="0.9" y="33.25" width="45.4" height="4.2"/><rect x="0.9" y="39.30" width="45.4" height="4.2"/><rect x="0.9" y="45.35" width="45.4" height="2.4"/></g><rect x="11.6" y="0.6" width="1.1" height="46" fill="#d5ebfa"/><rect x="34.9" y="0.6" width="1.1" height="46" fill="#d5ebfa"/></g>
<g transform="translate(463.20,345.80)"><path d="M8.2,0 L39,0 Q43.9,3.2 47.2,8.2 L47.2,39 Q43.9,44 39,47.2 L8.2,47.2 Q3.3,44 0,39 L0,8.2 Q3.3,3.2 8.2,0 Z" fill="#2180c9"/>
  <g clip-path="url(#cellClip)" fill="#5ba7dd">
<rect x="0" y="0" width="47.2" height="47.2" fill="#2f8dd3"/><rect x="0.9" y="3.00" width="45.4" height="4.2"/><rect x="0.9" y="9.05" width="45.4" height="4.2"/><rect x="0.9" y="15.10" width="45.4" height="4.2"/><rect x="0.9" y="21.15" width="45.4" height="4.2"/><rect x="0.9" y="27.20" width="45.4" height="4.2"/><rect x="0.9" y="33.25" width="45.4" height="4.2"/><rect x="0.9" y="39.30" width="45.4" height="4.2"/><rect x="0.9" y="45.35" width="45.4" height="2.4"/></g><rect x="11.6" y="0.6" width="1.1" height="46" fill="#d5ebfa"/><rect x="34.9" y="0.6" width="1.1" height="46" fill="#d5ebfa"/></g>
<g transform="translate(512.45,345.80)"><path d="M8.2,0 L39,0 Q43.9,3.2 47.2,8.2 L47.2,39 Q43.9,44 39,47.2 L8.2,47.2 Q3.3,44 0,39 L0,8.2 Q3.3,3.2 8.2,0 Z" fill="#2180c9"/>
  <g clip-path="url(#cellClip)" fill="#5ba7dd">
<rect x="0" y="0" width="47.2" height="47.2" fill="#2f8dd3"/><rect x="0.9" y="3.00" width="45.4" height="4.2"/><rect x="0.9" y="9.05" width="45.4" height="4.2"/><rect x="0.9" y="15.10" width="45.4" height="4.2"/><rect x="0.9" y="21.15" width="45.4" height="4.2"/><rect x="0.9" y="27.20" width="45.4" height="4.2"/><rect x="0.9" y="33.25" width="45.4" height="4.2"/><rect x="0.9" y="39.30" width="45.4" height="4.2"/><rect x="0.9" y="45.35" width="45.4" height="2.4"/></g><rect x="11.6" y="0.6" width="1.1" height="46" fill="#d5ebfa"/><rect x="34.9" y="0.6" width="1.1" height="46" fill="#d5ebfa"/></g>
<rect x="284.2" y="146.2" width="208.3" height="306" fill="#6a6a6a"/>
<rect x="285.0" y="147.0" width="206.70000000000002" height="304.4" fill="#c2c2c2"/>
<rect x="286.0" y="148.0" width="204.70000000000002" height="302.4" fill="#e2e2e2"/>
<rect x="287.9" y="149.89999999999998" width="200.9" height="298.6" fill="#333"/>
<rect x="288.9" y="150.89999999999998" width="198.9" height="296.6" fill="#ffffff"/>
<g transform="translate(291.20,153.00)"><path d="M8.2,0 L39,0 Q43.9,3.2 47.2,8.2 L47.2,39 Q43.9,44 39,47.2 L8.2,47.2 Q3.3,44 0,39 L0,8.2 Q3.3,3.2 8.2,0 Z" fill="#2180c9"/>
  <g clip-path="url(#cellClip)" fill="#5ba7dd">
<rect x="0" y="0" width="47.2" height="47.2" fill="#2f8dd3"/><rect x="0.9" y="3.00" width="45.4" height="4.2"/><rect x="0.9" y="9.05" width="45.4" height="4.2"/><rect x="0.9" y="15.10" width="45.4" height="4.2"/><rect x="0.9" y="21.15" width="45.4" height="4.2"/><rect x="0.9" y="27.20" width="45.4" height="4.2"/><rect x="0.9" y="33.25" width="45.4" height="4.2"/><rect x="0.9" y="39.30" width="45.4" height="4.2"/><rect x="0.9" y="45.35" width="45.4" height="2.4"/></g><rect x="11.6" y="0.6" width="1.1" height="46" fill="#d5ebfa"/><rect x="34.9" y="0.6" width="1.1" height="46" fill="#d5ebfa"/></g>
<g transform="translate(340.45,153.00)"><path d="M8.2,0 L39,0 Q43.9,3.2 47.2,8.2 L47.2,39 Q43.9,44 39,47.2 L8.2,47.2 Q3.3,44 0,39 L0,8.2 Q3.3,3.2 8.2,0 Z" fill="#2180c9"/>
  <g clip-path="url(#cellClip)" fill="#5ba7dd">
<rect x="0" y="0" width="47.2" height="47.2" fill="#2f8dd3"/><rect x="0.9" y="3.00" width="45.4" height="4.2"/><rect x="0.9" y="9.05" width="45.4" height="4.2"/><rect x="0.9" y="15.10" width="45.4" height="4.2"/><rect x="0.9" y="21.15" width="45.4" height="4.2"/><rect x="0.9" y="27.20" width="45.4" height="4.2"/><rect x="0.9" y="33.25" width="45.4" height="4.2"/><rect x="0.9" y="39.30" width="45.4" height="4.2"/><rect x="0.9" y="45.35" width="45.4" height="2.4"/></g><rect x="11.6" y="0.6" width="1.1" height="46" fill="#d5ebfa"/><rect x="34.9" y="0.6" width="1.1" height="46" fill="#d5ebfa"/></g>
<g transform="translate(389.70,153.00)"><path d="M8.2,0 L39,0 Q43.9,3.2 47.2,8.2 L47.2,39 Q43.9,44 39,47.2 L8.2,47.2 Q3.3,44 0,39 L0,8.2 Q3.3,3.2 8.2,0 Z" fill="#2180c9"/>
  <g clip-path="url(#cellClip)" fill="#5ba7dd">
<rect x="0" y="0" width="47.2" height="47.2" fill="#2f8dd3"/><rect x="0.9" y="3.00" width="45.4" height="4.2"/><rect x="0.9" y="9.05" width="45.4" height="4.2"/><rect x="0.9" y="15.10" width="45.4" height="4.2"/><rect x="0.9" y="21.15" width="45.4" height="4.2"/><rect x="0.9" y="27.20" width="45.4" height="4.2"/><rect x="0.9" y="33.25" width="45.4" height="4.2"/><rect x="0.9" y="39.30" width="45.4" height="4.2"/><rect x="0.9" y="45.35" width="45.4" height="2.4"/></g><rect x="11.6" y="0.6" width="1.1" height="46" fill="#d5ebfa"/><rect x="34.9" y="0.6" width="1.1" height="46" fill="#d5ebfa"/></g>
<g transform="translate(438.95,153.00)"><path d="M8.2,0 L39,0 Q43.9,3.2 47.2,8.2 L47.2,39 Q43.9,44 39,47.2 L8.2,47.2 Q3.3,44 0,39 L0,8.2 Q3.3,3.2 8.2,0 Z" fill="#2180c9"/>
  <g clip-path="url(#cellClip)" fill="#5ba7dd">
<rect x="0" y="0" width="47.2" height="47.2" fill="#2f8dd3"/><rect x="0.9" y="3.00" width="45.4" height="4.2"/><rect x="0.9" y="9.05" width="45.4" height="4.2"/><rect x="0.9" y="15.10" width="45.4" height="4.2"/><rect x="0.9" y="21.15" width="45.4" height="4.2"/><rect x="0.9" y="27.20" width="45.4" height="4.2"/><rect x="0.9" y="33.25" width="45.4" height="4.2"/><rect x="0.9" y="39.30" width="45.4" height="4.2"/><rect x="0.9" y="45.35" width="45.4" height="2.4"/></g><rect x="11.6" y="0.6" width="1.1" height="46" fill="#d5ebfa"/><rect x="34.9" y="0.6" width="1.1" height="46" fill="#d5ebfa"/></g>
<g transform="translate(291.20,202.00)"><path d="M8.2,0 L39,0 Q43.9,3.2 47.2,8.2 L47.2,39 Q43.9,44 39,47.2 L8.2,47.2 Q3.3,44 0,39 L0,8.2 Q3.3,3.2 8.2,0 Z" fill="#2180c9"/>
  <g clip-path="url(#cellClip)" fill="#5ba7dd">
<rect x="0" y="0" width="47.2" height="47.2" fill="#2f8dd3"/><rect x="0.9" y="3.00" width="45.4" height="4.2"/><rect x="0.9" y="9.05" width="45.4" height="4.2"/><rect x="0.9" y="15.10" width="45.4" height="4.2"/><rect x="0.9" y="21.15" width="45.4" height="4.2"/><rect x="0.9" y="27.20" width="45.4" height="4.2"/><rect x="0.9" y="33.25" width="45.4" height="4.2"/><rect x="0.9" y="39.30" width="45.4" height="4.2"/><rect x="0.9" y="45.35" width="45.4" height="2.4"/></g><rect x="11.6" y="0.6" width="1.1" height="46" fill="#d5ebfa"/><rect x="34.9" y="0.6" width="1.1" height="46" fill="#d5ebfa"/></g>
<g transform="translate(340.45,202.00)"><path d="M8.2,0 L39,0 Q43.9,3.2 47.2,8.2 L47.2,39 Q43.9,44 39,47.2 L8.2,47.2 Q3.3,44 0,39 L0,8.2 Q3.3,3.2 8.2,0 Z" fill="#2180c9"/>
  <g clip-path="url(#cellClip)" fill="#5ba7dd">
<rect x="0" y="0" width="47.2" height="47.2" fill="#2f8dd3"/><rect x="0.9" y="3.00" width="45.4" height="4.2"/><rect x="0.9" y="9.05" width="45.4" height="4.2"/><rect x="0.9" y="15.10" width="45.4" height="4.2"/><rect x="0.9" y="21.15" width="45.4" height="4.2"/><rect x="0.9" y="27.20" width="45.4" height="4.2"/><rect x="0.9" y="33.25" width="45.4" height="4.2"/><rect x="0.9" y="39.30" width="45.4" height="4.2"/><rect x="0.9" y="45.35" width="45.4" height="2.4"/></g><rect x="11.6" y="0.6" width="1.1" height="46" fill="#d5ebfa"/><rect x="34.9" y="0.6" width="1.1" height="46" fill="#d5ebfa"/></g>
<g transform="translate(389.70,202.00)"><path d="M8.2,0 L39,0 Q43.9,3.2 47.2,8.2 L47.2,39 Q43.9,44 39,47.2 L8.2,47.2 Q3.3,44 0,39 L0,8.2 Q3.3,3.2 8.2,0 Z" fill="#2180c9"/>
  <g clip-path="url(#cellClip)" fill="#5ba7dd">
<rect x="0" y="0" width="47.2" height="47.2" fill="#2f8dd3"/><rect x="0.9" y="3.00" width="45.4" height="4.2"/><rect x="0.9" y="9.05" width="45.4" height="4.2"/><rect x="0.9" y="15.10" width="45.4" height="4.2"/><rect x="0.9" y="21.15" width="45.4" height="4.2"/><rect x="0.9" y="27.20" width="45.4" height="4.2"/><rect x="0.9" y="33.25" width="45.4" height="4.2"/><rect x="0.9" y="39.30" width="45.4" height="4.2"/><rect x="0.9" y="45.35" width="45.4" height="2.4"/></g><rect x="11.6" y="0.6" width="1.1" height="46" fill="#d5ebfa"/><rect x="34.9" y="0.6" width="1.1" height="46" fill="#d5ebfa"/></g>
<g transform="translate(438.95,202.00)"><path d="M8.2,0 L39,0 Q43.9,3.2 47.2,8.2 L47.2,39 Q43.9,44 39,47.2 L8.2,47.2 Q3.3,44 0,39 L0,8.2 Q3.3,3.2 8.2,0 Z" fill="#2180c9"/>
  <g clip-path="url(#cellClip)" fill="#5ba7dd">
<rect x="0" y="0" width="47.2" height="47.2" fill="#2f8dd3"/><rect x="0.9" y="3.00" width="45.4" height="4.2"/><rect x="0.9" y="9.05" width="45.4" height="4.2"/><rect x="0.9" y="15.10" width="45.4" height="4.2"/><rect x="0.9" y="21.15" width="45.4" height="4.2"/><rect x="0.9" y="27.20" width="45.4" height="4.2"/><rect x="0.9" y="33.25" width="45.4" height="4.2"/><rect x="0.9" y="39.30" width="45.4" height="4.2"/><rect x="0.9" y="45.35" width="45.4" height="2.4"/></g><rect x="11.6" y="0.6" width="1.1" height="46" fill="#d5ebfa"/><rect x="34.9" y="0.6" width="1.1" height="46" fill="#d5ebfa"/></g>
<g transform="translate(291.20,251.00)"><path d="M8.2,0 L39,0 Q43.9,3.2 47.2,8.2 L47.2,39 Q43.9,44 39,47.2 L8.2,47.2 Q3.3,44 0,39 L0,8.2 Q3.3,3.2 8.2,0 Z" fill="#2180c9"/>
  <g clip-path="url(#cellClip)" fill="#5ba7dd">
<rect x="0" y="0" width="47.2" height="47.2" fill="#2f8dd3"/><rect x="0.9" y="3.00" width="45.4" height="4.2"/><rect x="0.9" y="9.05" width="45.4" height="4.2"/><rect x="0.9" y="15.10" width="45.4" height="4.2"/><rect x="0.9" y="21.15" width="45.4" height="4.2"/><rect x="0.9" y="27.20" width="45.4" height="4.2"/><rect x="0.9" y="33.25" width="45.4" height="4.2"/><rect x="0.9" y="39.30" width="45.4" height="4.2"/><rect x="0.9" y="45.35" width="45.4" height="2.4"/></g><rect x="11.6" y="0.6" width="1.1" height="46" fill="#d5ebfa"/><rect x="34.9" y="0.6" width="1.1" height="46" fill="#d5ebfa"/></g>
<g transform="translate(340.45,251.00)"><path d="M8.2,0 L39,0 Q43.9,3.2 47.2,8.2 L47.2,39 Q43.9,44 39,47.2 L8.2,47.2 Q3.3,44 0,39 L0,8.2 Q3.3,3.2 8.2,0 Z" fill="#2180c9"/>
  <g clip-path="url(#cellClip)" fill="#5ba7dd">
<rect x="0" y="0" width="47.2" height="47.2" fill="#2f8dd3"/><rect x="0.9" y="3.00" width="45.4" height="4.2"/><rect x="0.9" y="9.05" width="45.4" height="4.2"/><rect x="0.9" y="15.10" width="45.4" height="4.2"/><rect x="0.9" y="21.15" width="45.4" height="4.2"/><rect x="0.9" y="27.20" width="45.4" height="4.2"/><rect x="0.9" y="33.25" width="45.4" height="4.2"/><rect x="0.9" y="39.30" width="45.4" height="4.2"/><rect x="0.9" y="45.35" width="45.4" height="2.4"/></g><rect x="11.6" y="0.6" width="1.1" height="46" fill="#d5ebfa"/><rect x="34.9" y="0.6" width="1.1" height="46" fill="#d5ebfa"/></g>
<g transform="translate(389.70,251.00)"><path d="M8.2,0 L39,0 Q43.9,3.2 47.2,8.2 L47.2,39 Q43.9,44 39,47.2 L8.2,47.2 Q3.3,44 0,39 L0,8.2 Q3.3,3.2 8.2,0 Z" fill="#2180c9"/>
  <g clip-path="url(#cellClip)" fill="#5ba7dd">
<rect x="0" y="0" width="47.2" height="47.2" fill="#2f8dd3"/><rect x="0.9" y="3.00" width="45.4" height="4.2"/><rect x="0.9" y="9.05" width="45.4" height="4.2"/><rect x="0.9" y="15.10" width="45.4" height="4.2"/><rect x="0.9" y="21.15" width="45.4" height="4.2"/><rect x="0.9" y="27.20" width="45.4" height="4.2"/><rect x="0.9" y="33.25" width="45.4" height="4.2"/><rect x="0.9" y="39.30" width="45.4" height="4.2"/><rect x="0.9" y="45.35" width="45.4" height="2.4"/></g><rect x="11.6" y="0.6" width="1.1" height="46" fill="#d5ebfa"/><rect x="34.9" y="0.6" width="1.1" height="46" fill="#d5ebfa"/></g>
<g transform="translate(438.95,251.00)"><path d="M8.2,0 L39,0 Q43.9,3.2 47.2,8.2 L47.2,39 Q43.9,44 39,47.2 L8.2,47.2 Q3.3,44 0,39 L0,8.2 Q3.3,3.2 8.2,0 Z" fill="#2180c9"/>
  <g clip-path="url(#cellClip)" fill="#5ba7dd">
<rect x="0" y="0" width="47.2" height="47.2" fill="#2f8dd3"/><rect x="0.9" y="3.00" width="45.4" height="4.2"/><rect x="0.9" y="9.05" width="45.4" height="4.2"/><rect x="0.9" y="15.10" width="45.4" height="4.2"/><rect x="0.9" y="21.15" width="45.4" height="4.2"/><rect x="0.9" y="27.20" width="45.4" height="4.2"/><rect x="0.9" y="33.25" width="45.4" height="4.2"/><rect x="0.9" y="39.30" width="45.4" height="4.2"/><rect x="0.9" y="45.35" width="45.4" height="2.4"/></g><rect x="11.6" y="0.6" width="1.1" height="46" fill="#d5ebfa"/><rect x="34.9" y="0.6" width="1.1" height="46" fill="#d5ebfa"/></g>
<g transform="translate(291.20,300.00)"><path d="M8.2,0 L39,0 Q43.9,3.2 47.2,8.2 L47.2,39 Q43.9,44 39,47.2 L8.2,47.2 Q3.3,44 0,39 L0,8.2 Q3.3,3.2 8.2,0 Z" fill="#2180c9"/>
  <g clip-path="url(#cellClip)" fill="#5ba7dd">
<rect x="0" y="0" width="47.2" height="47.2" fill="#2f8dd3"/><rect x="0.9" y="3.00" width="45.4" height="4.2"/><rect x="0.9" y="9.05" width="45.4" height="4.2"/><rect x="0.9" y="15.10" width="45.4" height="4.2"/><rect x="0.9" y="21.15" width="45.4" height="4.2"/><rect x="0.9" y="27.20" width="45.4" height="4.2"/><rect x="0.9" y="33.25" width="45.4" height="4.2"/><rect x="0.9" y="39.30" width="45.4" height="4.2"/><rect x="0.9" y="45.35" width="45.4" height="2.4"/></g><rect x="11.6" y="0.6" width="1.1" height="46" fill="#d5ebfa"/><rect x="34.9" y="0.6" width="1.1" height="46" fill="#d5ebfa"/></g>
<g transform="translate(340.45,300.00)"><path d="M8.2,0 L39,0 Q43.9,3.2 47.2,8.2 L47.2,39 Q43.9,44 39,47.2 L8.2,47.2 Q3.3,44 0,39 L0,8.2 Q3.3,3.2 8.2,0 Z" fill="#2180c9"/>
  <g clip-path="url(#cellClip)" fill="#5ba7dd">
<rect x="0" y="0" width="47.2" height="47.2" fill="#2f8dd3"/><rect x="0.9" y="3.00" width="45.4" height="4.2"/><rect x="0.9" y="9.05" width="45.4" height="4.2"/><rect x="0.9" y="15.10" width="45.4" height="4.2"/><rect x="0.9" y="21.15" width="45.4" height="4.2"/><rect x="0.9" y="27.20" width="45.4" height="4.2"/><rect x="0.9" y="33.25" width="45.4" height="4.2"/><rect x="0.9" y="39.30" width="45.4" height="4.2"/><rect x="0.9" y="45.35" width="45.4" height="2.4"/></g><rect x="11.6" y="0.6" width="1.1" height="46" fill="#d5ebfa"/><rect x="34.9" y="0.6" width="1.1" height="46" fill="#d5ebfa"/></g>
<g transform="translate(389.70,300.00)"><path d="M8.2,0 L39,0 Q43.9,3.2 47.2,8.2 L47.2,39 Q43.9,44 39,47.2 L8.2,47.2 Q3.3,44 0,39 L0,8.2 Q3.3,3.2 8.2,0 Z" fill="#2180c9"/>
  <g clip-path="url(#cellClip)" fill="#5ba7dd">
<rect x="0" y="0" width="47.2" height="47.2" fill="#2f8dd3"/><rect x="0.9" y="3.00" width="45.4" height="4.2"/><rect x="0.9" y="9.05" width="45.4" height="4.2"/><rect x="0.9" y="15.10" width="45.4" height="4.2"/><rect x="0.9" y="21.15" width="45.4" height="4.2"/><rect x="0.9" y="27.20" width="45.4" height="4.2"/><rect x="0.9" y="33.25" width="45.4" height="4.2"/><rect x="0.9" y="39.30" width="45.4" height="4.2"/><rect x="0.9" y="45.35" width="45.4" height="2.4"/></g><rect x="11.6" y="0.6" width="1.1" height="46" fill="#d5ebfa"/><rect x="34.9" y="0.6" width="1.1" height="46" fill="#d5ebfa"/></g>
<g transform="translate(438.95,300.00)"><path d="M8.2,0 L39,0 Q43.9,3.2 47.2,8.2 L47.2,39 Q43.9,44 39,47.2 L8.2,47.2 Q3.3,44 0,39 L0,8.2 Q3.3,3.2 8.2,0 Z" fill="#2180c9"/>
  <g clip-path="url(#cellClip)" fill="#5ba7dd">
<rect x="0" y="0" width="47.2" height="47.2" fill="#2f8dd3"/><rect x="0.9" y="3.00" width="45.4" height="4.2"/><rect x="0.9" y="9.05" width="45.4" height="4.2"/><rect x="0.9" y="15.10" width="45.4" height="4.2"/><rect x="0.9" y="21.15" width="45.4" height="4.2"/><rect x="0.9" y="27.20" width="45.4" height="4.2"/><rect x="0.9" y="33.25" width="45.4" height="4.2"/><rect x="0.9" y="39.30" width="45.4" height="4.2"/><rect x="0.9" y="45.35" width="45.4" height="2.4"/></g><rect x="11.6" y="0.6" width="1.1" height="46" fill="#d5ebfa"/><rect x="34.9" y="0.6" width="1.1" height="46" fill="#d5ebfa"/></g>
<g transform="translate(291.20,349.00)"><path d="M8.2,0 L39,0 Q43.9,3.2 47.2,8.2 L47.2,39 Q43.9,44 39,47.2 L8.2,47.2 Q3.3,44 0,39 L0,8.2 Q3.3,3.2 8.2,0 Z" fill="#2180c9"/>
  <g clip-path="url(#cellClip)" fill="#5ba7dd">
<rect x="0" y="0" width="47.2" height="47.2" fill="#2f8dd3"/><rect x="0.9" y="3.00" width="45.4" height="4.2"/><rect x="0.9" y="9.05" width="45.4" height="4.2"/><rect x="0.9" y="15.10" width="45.4" height="4.2"/><rect x="0.9" y="21.15" width="45.4" height="4.2"/><rect x="0.9" y="27.20" width="45.4" height="4.2"/><rect x="0.9" y="33.25" width="45.4" height="4.2"/><rect x="0.9" y="39.30" width="45.4" height="4.2"/><rect x="0.9" y="45.35" width="45.4" height="2.4"/></g><rect x="11.6" y="0.6" width="1.1" height="46" fill="#d5ebfa"/><rect x="34.9" y="0.6" width="1.1" height="46" fill="#d5ebfa"/></g>
<g transform="translate(340.45,349.00)"><path d="M8.2,0 L39,0 Q43.9,3.2 47.2,8.2 L47.2,39 Q43.9,44 39,47.2 L8.2,47.2 Q3.3,44 0,39 L0,8.2 Q3.3,3.2 8.2,0 Z" fill="#2180c9"/>
  <g clip-path="url(#cellClip)" fill="#5ba7dd">
<rect x="0" y="0" width="47.2" height="47.2" fill="#2f8dd3"/><rect x="0.9" y="3.00" width="45.4" height="4.2"/><rect x="0.9" y="9.05" width="45.4" height="4.2"/><rect x="0.9" y="15.10" width="45.4" height="4.2"/><rect x="0.9" y="21.15" width="45.4" height="4.2"/><rect x="0.9" y="27.20" width="45.4" height="4.2"/><rect x="0.9" y="33.25" width="45.4" height="4.2"/><rect x="0.9" y="39.30" width="45.4" height="4.2"/><rect x="0.9" y="45.35" width="45.4" height="2.4"/></g><rect x="11.6" y="0.6" width="1.1" height="46" fill="#d5ebfa"/><rect x="34.9" y="0.6" width="1.1" height="46" fill="#d5ebfa"/></g>
<g transform="translate(389.70,349.00)"><path d="M8.2,0 L39,0 Q43.9,3.2 47.2,8.2 L47.2,39 Q43.9,44 39,47.2 L8.2,47.2 Q3.3,44 0,39 L0,8.2 Q3.3,3.2 8.2,0 Z" fill="#2180c9"/>
  <g clip-path="url(#cellClip)" fill="#5ba7dd">
<rect x="0" y="0" width="47.2" height="47.2" fill="#2f8dd3"/><rect x="0.9" y="3.00" width="45.4" height="4.2"/><rect x="0.9" y="9.05" width="45.4" height="4.2"/><rect x="0.9" y="15.10" width="45.4" height="4.2"/><rect x="0.9" y="21.15" width="45.4" height="4.2"/><rect x="0.9" y="27.20" width="45.4" height="4.2"/><rect x="0.9" y="33.25" width="45.4" height="4.2"/><rect x="0.9" y="39.30" width="45.4" height="4.2"/><rect x="0.9" y="45.35" width="45.4" height="2.4"/></g><rect x="11.6" y="0.6" width="1.1" height="46" fill="#d5ebfa"/><rect x="34.9" y="0.6" width="1.1" height="46" fill="#d5ebfa"/></g>
<g transform="translate(438.95,349.00)"><path d="M8.2,0 L39,0 Q43.9,3.2 47.2,8.2 L47.2,39 Q43.9,44 39,47.2 L8.2,47.2 Q3.3,44 0,39 L0,8.2 Q3.3,3.2 8.2,0 Z" fill="#2180c9"/>
  <g clip-path="url(#cellClip)" fill="#5ba7dd">
<rect x="0" y="0" width="47.2" height="47.2" fill="#2f8dd3"/><rect x="0.9" y="3.00" width="45.4" height="4.2"/><rect x="0.9" y="9.05" width="45.4" height="4.2"/><rect x="0.9" y="15.10" width="45.4" height="4.2"/><rect x="0.9" y="21.15" width="45.4" height="4.2"/><rect x="0.9" y="27.20" width="45.4" height="4.2"/><rect x="0.9" y="33.25" width="45.4" height="4.2"/><rect x="0.9" y="39.30" width="45.4" height="4.2"/><rect x="0.9" y="45.35" width="45.4" height="2.4"/></g><rect x="11.6" y="0.6" width="1.1" height="46" fill="#d5ebfa"/><rect x="34.9" y="0.6" width="1.1" height="46" fill="#d5ebfa"/></g>
<g transform="translate(291.20,398.00)"><path d="M8.2,0 L39,0 Q43.9,3.2 47.2,8.2 L47.2,39 Q43.9,44 39,47.2 L8.2,47.2 Q3.3,44 0,39 L0,8.2 Q3.3,3.2 8.2,0 Z" fill="#2180c9"/>
  <g clip-path="url(#cellClip)" fill="#5ba7dd">
<rect x="0" y="0" width="47.2" height="47.2" fill="#2f8dd3"/><rect x="0.9" y="3.00" width="45.4" height="4.2"/><rect x="0.9" y="9.05" width="45.4" height="4.2"/><rect x="0.9" y="15.10" width="45.4" height="4.2"/><rect x="0.9" y="21.15" width="45.4" height="4.2"/><rect x="0.9" y="27.20" width="45.4" height="4.2"/><rect x="0.9" y="33.25" width="45.4" height="4.2"/><rect x="0.9" y="39.30" width="45.4" height="4.2"/><rect x="0.9" y="45.35" width="45.4" height="2.4"/></g><rect x="11.6" y="0.6" width="1.1" height="46" fill="#d5ebfa"/><rect x="34.9" y="0.6" width="1.1" height="46" fill="#d5ebfa"/></g>
<g transform="translate(340.45,398.00)"><path d="M8.2,0 L39,0 Q43.9,3.2 47.2,8.2 L47.2,39 Q43.9,44 39,47.2 L8.2,47.2 Q3.3,44 0,39 L0,8.2 Q3.3,3.2 8.2,0 Z" fill="#2180c9"/>
  <g clip-path="url(#cellClip)" fill="#5ba7dd">
<rect x="0" y="0" width="47.2" height="47.2" fill="#2f8dd3"/><rect x="0.9" y="3.00" width="45.4" height="4.2"/><rect x="0.9" y="9.05" width="45.4" height="4.2"/><rect x="0.9" y="15.10" width="45.4" height="4.2"/><rect x="0.9" y="21.15" width="45.4" height="4.2"/><rect x="0.9" y="27.20" width="45.4" height="4.2"/><rect x="0.9" y="33.25" width="45.4" height="4.2"/><rect x="0.9" y="39.30" width="45.4" height="4.2"/><rect x="0.9" y="45.35" width="45.4" height="2.4"/></g><rect x="11.6" y="0.6" width="1.1" height="46" fill="#d5ebfa"/><rect x="34.9" y="0.6" width="1.1" height="46" fill="#d5ebfa"/></g>
<g transform="translate(389.70,398.00)"><path d="M8.2,0 L39,0 Q43.9,3.2 47.2,8.2 L47.2,39 Q43.9,44 39,47.2 L8.2,47.2 Q3.3,44 0,39 L0,8.2 Q3.3,3.2 8.2,0 Z" fill="#2180c9"/>
  <g clip-path="url(#cellClip)" fill="#5ba7dd">
<rect x="0" y="0" width="47.2" height="47.2" fill="#2f8dd3"/><rect x="0.9" y="3.00" width="45.4" height="4.2"/><rect x="0.9" y="9.05" width="45.4" height="4.2"/><rect x="0.9" y="15.10" width="45.4" height="4.2"/><rect x="0.9" y="21.15" width="45.4" height="4.2"/><rect x="0.9" y="27.20" width="45.4" height="4.2"/><rect x="0.9" y="33.25" width="45.4" height="4.2"/><rect x="0.9" y="39.30" width="45.4" height="4.2"/><rect x="0.9" y="45.35" width="45.4" height="2.4"/></g><rect x="11.6" y="0.6" width="1.1" height="46" fill="#d5ebfa"/><rect x="34.9" y="0.6" width="1.1" height="46" fill="#d5ebfa"/></g>
<g transform="translate(438.95,398.00)"><path d="M8.2,0 L39,0 Q43.9,3.2 47.2,8.2 L47.2,39 Q43.9,44 39,47.2 L8.2,47.2 Q3.3,44 0,39 L0,8.2 Q3.3,3.2 8.2,0 Z" fill="#2180c9"/>
  <g clip-path="url(#cellClip)" fill="#5ba7dd">
<rect x="0" y="0" width="47.2" height="47.2" fill="#2f8dd3"/><rect x="0.9" y="3.00" width="45.4" height="4.2"/><rect x="0.9" y="9.05" width="45.4" height="4.2"/><rect x="0.9" y="15.10" width="45.4" height="4.2"/><rect x="0.9" y="21.15" width="45.4" height="4.2"/><rect x="0.9" y="27.20" width="45.4" height="4.2"/><rect x="0.9" y="33.25" width="45.4" height="4.2"/><rect x="0.9" y="39.30" width="45.4" height="4.2"/><rect x="0.9" y="45.35" width="45.4" height="2.4"/></g><rect x="11.6" y="0.6" width="1.1" height="46" fill="#d5ebfa"/><rect x="34.9" y="0.6" width="1.1" height="46" fill="#d5ebfa"/></g>
<text x="66.9" y="33.9" font-size="15.2" font-weight="bold" fill="#1e1e1e" letter-spacing="0.3">Потребители ~ 220 В</text>
<text x="306" y="52" font-size="15.2" font-weight="bold" fill="#1e1e1e" letter-spacing="0.33">Солнечные</text>
<text x="306" y="70" font-size="15.2" font-weight="bold" fill="#1e1e1e" letter-spacing="0.25">модули</text>
<text x="83.5" y="292.4" font-size="15.2" font-weight="bold" fill="#1e1e1e" letter-spacing="0.25">Потребители = 12 В</text>
<text x="106.5" y="430.4" font-size="15.2" font-weight="bold" fill="#1e1e1e" letter-spacing="0.32">Потребители = 48 В</text>
<text x="117.6" y="449.3" font-size="10.3" font-weight="normal" fill="#222" letter-spacing="0.2">Радиостанции</text>
<text x="469.6" y="478.6" font-size="10" font-weight="bold" fill="#1e1e1e" letter-spacing="0.25">Ветрогенератор</text>
<text x="498.6" y="682.8" font-size="10.2" font-weight="bold" fill="#1e1e1e" letter-spacing="0.22">Дизельный/бензиновый</text>
<text x="536.2" y="693.1" font-size="10.2" font-weight="bold" fill="#1e1e1e" letter-spacing="0.3">генератор</text>
<text x="379.2" y="788.1" font-size="14" font-weight="normal" fill="#222" >Вход:&#160; ~ 220 В</text>
<g stroke="#4a4a4a" stroke-width="1">
<rect x="69.5" y="102.5" width="93" height="140.8" rx="2.5" fill="url(#gFridge)"/>
<rect x="74" y="100.4" width="88" height="2" fill="#c4c4c4" stroke="#444" stroke-width="0.7"/>
<rect x="69.5" y="49" width="93" height="51.5" rx="2.5" fill="url(#gFridge)"/>
<rect x="75" y="92.4" width="18.5" height="5.2" fill="#8a8a8a"/>
<rect x="75" y="105" width="18.5" height="5.4" fill="#8a8a8a"/>
</g>
<g stroke="#62bff2" stroke-width="1.25" stroke-linecap="round" fill="none"><line x1="139.5" y1="72.4" x2="139.50" y2="59.00"/><line x1="139.50" y1="64.09" x2="143.83" y2="61.59"/><line x1="139.50" y1="64.09" x2="135.17" y2="61.59"/><line x1="139.5" y1="72.4" x2="127.90" y2="65.70"/><line x1="132.31" y1="68.25" x2="132.31" y2="63.25"/><line x1="132.31" y1="68.25" x2="127.97" y2="70.75"/><line x1="139.5" y1="72.4" x2="127.90" y2="79.10"/><line x1="132.31" y1="76.55" x2="127.97" y2="74.05"/><line x1="132.31" y1="76.55" x2="132.31" y2="81.55"/><line x1="139.5" y1="72.4" x2="139.50" y2="85.80"/><line x1="139.50" y1="80.71" x2="135.17" y2="83.21"/><line x1="139.50" y1="80.71" x2="143.83" y2="83.21"/><line x1="139.5" y1="72.4" x2="151.10" y2="79.10"/><line x1="146.69" y1="76.55" x2="146.69" y2="81.55"/><line x1="146.69" y1="76.55" x2="151.03" y2="74.05"/><line x1="139.5" y1="72.4" x2="151.10" y2="65.70"/><line x1="146.69" y1="68.25" x2="151.03" y2="70.75"/><line x1="146.69" y1="68.25" x2="146.69" y2="63.25"/></g>
<g>
<path d="M184.4,125.5 L184.4,116 C184.4,111 181.5,107.5 177.1,102.3 A22.4,22.4 0 1 1 208.7,102.3 C204.3,107.5 201.6,111 201.6,116 L201.6,125.5 Z" fill="url(#gBulb)" stroke="#5a5a4a" stroke-width="0.9"/>
<rect x="188.3" y="104" width="9.5" height="21" rx="1.5" fill="#d4cc7c"/>
<line x1="183.4" y1="86.8" x2="189" y2="104" stroke="#a8a070" stroke-width="0.6"/>
<line x1="203.1" y1="86.8" x2="197" y2="104" stroke="#a8a070" stroke-width="0.6"/>
<path d="M182,86.5 c0,-7 5.5,-7 5.5,0 c0,-7 5.5,-7 5.5,0 c0,-7 5.5,-7 5.5,0 c0,-7 5.5,-7 5.5,0" fill="none" stroke="#f08a1c" stroke-width="1.8"/>
<path d="M184,125.2 L202,125.2 L202,140.2 L192.8,143.6 L184,140.2 Z" fill="url(#gBase)" stroke="#3a3a3a" stroke-width="0.8"/>
</g>
<g>
<rect x="128.3" y="163.4" width="88.4" height="69.6" rx="2" fill="url(#gTVbody)" stroke="#1e1e1e" stroke-width="1"/>
<rect x="135.7" y="169.2" width="73" height="50" fill="url(#gScreen)" stroke="#262626" stroke-width="1"/>
<circle cx="203.4" cy="227.6" r="2.4" fill="#e21515" stroke="#3a0000" stroke-width="0.5"/>
</g>
<text x="138.8" y="183.9" font-size="14" font-weight="bold" fill="#f6f2b2" >TV</text>
<g>
<line x1="119" y1="323" x2="98.2" y2="303.6" stroke="#707070" stroke-width="1.1"/>
<line x1="119" y1="323" x2="139.7" y2="303.6" stroke="#707070" stroke-width="1.1"/>
<circle cx="98.2" cy="303.6" r="2.8" fill="#c8a8a0" stroke="#604a46" stroke-width="0.6"/>
<circle cx="139.7" cy="303.6" r="2.8" fill="#c8a8a0" stroke="#604a46" stroke-width="0.6"/>
<path d="M112.5,326.4 A6.6,4.4 0 0 1 125.7,326.4 Z" fill="url(#gAnt)" stroke="#444" stroke-width="0.6"/>
<rect x="84" y="326.2" width="69.4" height="54.5" rx="1.5" fill="url(#gTVbody)" stroke="#1e1e1e" stroke-width="1"/>
<rect x="89.9" y="330.6" width="57.9" height="39.4" fill="url(#gScreen)" stroke="#262626" stroke-width="1"/>
<circle cx="143.4" cy="376.7" r="2.1" fill="#e21515" stroke="#3a0000" stroke-width="0.4"/>
</g>
<text x="92.8" y="341.75" font-size="10.6" font-weight="bold" fill="#f6f2b2" >TV</text>
<g transform="translate(175.2,301.6) rotate(26.26)">
<rect x="0" y="-3.1" width="83.2" height="6.2" fill="#fdfae0" stroke="#444" stroke-width="0.8"/>
<rect x="0" y="-3.7" width="8" height="7.4" rx="2" fill="url(#gCap)" stroke="#333" stroke-width="0.6"/>
<rect x="75.2" y="-3.7" width="8" height="7.4" rx="2" fill="url(#gCap)" stroke="#333" stroke-width="0.6"/>
</g>
<g>
<rect x="173" y="336.6" width="47.6" height="37" fill="#5e5e5e" stroke="#333" stroke-width="0.8"/>
<rect x="176" y="339.6" width="41.8" height="30.8" fill="url(#gLap)" stroke="#3a3a3a" stroke-width="0.5"/>
<polygon points="173,373.4 220.8,373.4 229.6,378.3 163.6,378.3" fill="#c8c8c8" stroke="#444" stroke-width="0.7"/>
<rect x="163.6" y="378.3" width="66" height="4" fill="#686868" stroke="#444" stroke-width="0.6"/>
</g>
<g>
<rect x="113.8" y="452.6" width="125.8" height="33.2" fill="url(#gMetal)" stroke="#333" stroke-width="1"/>
<rect x="124.3" y="458.1" width="53.7" height="12.3" fill="#aee6c6" stroke="#555" stroke-width="0.8"/>
</g>
<circle cx="223" cy="469" r="10.9" fill="#d8d8d8"/><path d="M223,469 L233.90,469.00 A10.9,10.9 0 0 1 233.69,471.13 Z" fill="#e6e6e6"/><path d="M223,469 L233.07,473.17 A10.9,10.9 0 0 1 232.06,475.06 Z" fill="#cfcfcf"/><path d="M223,469 L230.71,476.71 A10.9,10.9 0 0 1 229.06,478.06 Z" fill="#e6e6e6"/><path d="M223,469 L227.17,479.07 A10.9,10.9 0 0 1 225.13,479.69 Z" fill="#cfcfcf"/><path d="M223,469 L223.00,479.90 A10.9,10.9 0 0 1 220.87,479.69 Z" fill="#e6e6e6"/><path d="M223,469 L218.83,479.07 A10.9,10.9 0 0 1 216.94,478.06 Z" fill="#cfcfcf"/><path d="M223,469 L215.29,476.71 A10.9,10.9 0 0 1 213.94,475.06 Z" fill="#e6e6e6"/><path d="M223,469 L212.93,473.17 A10.9,10.9 0 0 1 212.31,471.13 Z" fill="#cfcfcf"/><path d="M223,469 L212.10,469.00 A10.9,10.9 0 0 1 212.31,466.87 Z" fill="#e6e6e6"/><path d="M223,469 L212.93,464.83 A10.9,10.9 0 0 1 213.94,462.94 Z" fill="#cfcfcf"/><path d="M223,469 L215.29,461.29 A10.9,10.9 0 0 1 216.94,459.94 Z" fill="#e6e6e6"/><path d="M223,469 L218.83,458.93 A10.9,10.9 0 0 1 220.87,458.31 Z" fill="#cfcfcf"/><path d="M223,469 L223.00,458.10 A10.9,10.9 0 0 1 225.13,458.31 Z" fill="#e6e6e6"/><path d="M223,469 L227.17,458.93 A10.9,10.9 0 0 1 229.06,459.94 Z" fill="#cfcfcf"/><path d="M223,469 L230.71,461.29 A10.9,10.9 0 0 1 232.06,462.94 Z" fill="#e6e6e6"/><path d="M223,469 L233.07,464.83 A10.9,10.9 0 0 1 233.69,466.87 Z" fill="#cfcfcf"/><circle cx="223" cy="469" r="10.9" fill="none" stroke="#333" stroke-width="0.9"/>
<text transform="translate(133.8,467.4) scale(1.28,1)" x="0" y="0" font-size="8.4" font-family="Liberation Mono, monospace" fill="#2a8c4e" stroke="#2a8c4e" stroke-width="0.12" letter-spacing="0.55">324.23</text>
<rect x="54" y="518.5" width="144" height="200.0" fill="#6a6a6a"/>
<rect x="54.9" y="519.4" width="142.2" height="198.2" fill="#b4b4b4"/>
<rect x="56.6" y="521.1" width="138.8" height="194.8" fill="#6a6a6a"/>
<rect x="57.8" y="522.3" width="136.4" height="192.4" fill="#fff"/>
<rect x="238.2" y="518.5" width="107.0" height="200.10000000000002" fill="#6a6a6a"/>
<rect x="239.1" y="519.4" width="105.2" height="198.3" fill="#b4b4b4"/>
<rect x="240.79999999999998" y="521.1" width="101.8" height="194.90000000000003" fill="#6a6a6a"/>
<rect x="242.0" y="522.3" width="99.4" height="192.50000000000003" fill="#fff"/>
<rect x="63.3" y="528.1" width="125.2" height="32.89999999999998" fill="url(#gMetal)" stroke="#555" stroke-width="1"/>
<rect x="63.3" y="564.2" width="125.2" height="32.299999999999955" fill="url(#gMetal)" stroke="#555" stroke-width="1"/>
<rect x="63.3" y="599.5" width="125.2" height="53.5" fill="url(#gMetal)" stroke="#555" stroke-width="1"/>
<circle cx="79" cy="549.4" r="5.5" fill="#f7b500" stroke="#555" stroke-width="0.7"/><circle cx="79" cy="584.4" r="5.5" fill="#a9d87a" stroke="#555" stroke-width="0.7"/><circle cx="93.4" cy="549.4" r="5.5" fill="#f7b500" stroke="#555" stroke-width="0.7"/><circle cx="93.4" cy="584.4" r="5.5" fill="#a9d87a" stroke="#555" stroke-width="0.7"/><circle cx="107.8" cy="549.4" r="5.5" fill="#f7b500" stroke="#555" stroke-width="0.7"/><circle cx="107.8" cy="584.4" r="5.5" fill="#a9d87a" stroke="#555" stroke-width="0.7"/><circle cx="130.30" cy="538.5" r="2.4" fill="#dc1c4e" stroke="#5a1a2a" stroke-width="0.5"/><circle cx="130.30" cy="579.8" r="2.4" fill="#1b8fe2" stroke="#1a3a5a" stroke-width="0.5"/><circle cx="137.12" cy="538.5" r="2.4" fill="#dc1c4e" stroke="#5a1a2a" stroke-width="0.5"/><circle cx="137.12" cy="579.8" r="2.4" fill="#1b8fe2" stroke="#1a3a5a" stroke-width="0.5"/><circle cx="143.94" cy="538.5" r="2.4" fill="#dc1c4e" stroke="#5a1a2a" stroke-width="0.5"/><circle cx="143.94" cy="579.8" r="2.4" fill="#1b8fe2" stroke="#1a3a5a" stroke-width="0.5"/><circle cx="150.76" cy="538.5" r="2.4" fill="#dc1c4e" stroke="#5a1a2a" stroke-width="0.5"/><circle cx="150.76" cy="579.8" r="2.4" fill="#1b8fe2" stroke="#1a3a5a" stroke-width="0.5"/><circle cx="157.58" cy="538.5" r="2.4" fill="#dc1c4e" stroke="#5a1a2a" stroke-width="0.5"/><circle cx="157.58" cy="579.8" r="2.4" fill="#1b8fe2" stroke="#1a3a5a" stroke-width="0.5"/><circle cx="164.40" cy="538.5" r="2.4" fill="#dc1c4e" stroke="#5a1a2a" stroke-width="0.5"/><circle cx="164.40" cy="579.8" r="2.4" fill="#1b8fe2" stroke="#1a3a5a" stroke-width="0.5"/><circle cx="171.22" cy="538.5" r="2.4" fill="#dc1c4e" stroke="#5a1a2a" stroke-width="0.5"/><circle cx="171.22" cy="579.8" r="2.4" fill="#1b8fe2" stroke="#1a3a5a" stroke-width="0.5"/><circle cx="178.04" cy="538.5" r="2.4" fill="#dc1c4e" stroke="#5a1a2a" stroke-width="0.5"/><circle cx="178.04" cy="579.8" r="2.4" fill="#1b8fe2" stroke="#1a3a5a" stroke-width="0.5"/><text x="139.3" y="554.75" font-size="10.3" font-weight="normal" fill="#333" >Инвертор</text>
<text x="139.3" y="591.25" font-size="10.3" font-weight="normal" fill="#333" >Инвертор</text>
<rect x="110" y="607" width="32.2" height="14.3" rx="3" fill="#3c9a6c" stroke="#333" stroke-width="0.8"/>
<rect x="71.3" y="633" width="10.9" height="14.8" fill="#7a7a7a" stroke="#444" stroke-width="0.7"/>
<rect x="86" y="633" width="10.9" height="14.8" fill="#7a7a7a" stroke="#444" stroke-width="0.7"/>
<text x="129.2" y="635.7" font-size="10.5" font-weight="normal" fill="#333" >Блок</text>
<text x="129.2" y="647.3" font-size="10.4" font-weight="normal" fill="#333" >управления</text>
<text x="59.2" y="661.8" font-size="7.4" font-weight="bold" fill="#1e1e1e" >Выходная мощность:</text>
<text x="63.7" y="670.5" font-size="7.4" font-weight="bold" fill="#1e1e1e" >- потребителей постоянного тока</text>
<text x="187.1" y="678.2" font-size="7.4" font-weight="bold" fill="#1e1e1e" text-anchor="end">от 50 Вт до 400 Вт</text>
<text x="63.7" y="686.8" font-size="7.4" font-weight="bold" fill="#1e1e1e" >- потребителей переменного тока</text>
<text x="192.8" y="694.8" font-size="7.4" font-weight="bold" fill="#1e1e1e" text-anchor="end">от 1,5 кВт до 10 кВт</text>
<rect x="63.30" y="698.3" width="11.3" height="10.3" fill="#fff" stroke="#6a6a6a" stroke-width="1"/><rect x="77.08" y="698.3" width="11.3" height="10.3" fill="#fff" stroke="#6a6a6a" stroke-width="1"/><rect x="90.86" y="698.3" width="11.3" height="10.3" fill="#fff" stroke="#6a6a6a" stroke-width="1"/><rect x="104.64" y="698.3" width="11.3" height="10.3" fill="#fff" stroke="#6a6a6a" stroke-width="1"/><rect x="118.42" y="698.3" width="11.3" height="10.3" fill="#fff" stroke="#6a6a6a" stroke-width="1"/><rect x="132.20" y="698.3" width="11.3" height="10.3" fill="#fff" stroke="#6a6a6a" stroke-width="1"/><rect x="145.98" y="698.3" width="11.3" height="10.3" fill="#fff" stroke="#6a6a6a" stroke-width="1"/><rect x="159.76" y="698.3" width="11.3" height="10.3" fill="#fff" stroke="#6a6a6a" stroke-width="1"/>
<rect x="276.4" y="541.2" width="6.4" height="6.2" fill="url(#gTerm)" stroke="#333" stroke-width="0.7"/>
<rect x="317.8" y="541.2" width="6.4" height="6.2" fill="url(#gTerm)" stroke="#333" stroke-width="0.7"/>
<rect x="272" y="547.2" width="59.6" height="34" fill="#9ab3c6" stroke="#333" stroke-width="0.9"/>
<rect x="276.6" y="554.8000000000001" width="13" height="3.4" fill="#e4191e"/>
<rect x="281.4" y="549.7" width="3.4" height="13.5" fill="#e4191e"/>
<rect x="313.8" y="554.8000000000001" width="13.5" height="3.4" fill="#21198a"/>
<text x="300.2" y="577.7" font-size="16.4" font-weight="bold" fill="#1a1a1a" >12V</text>
<rect x="276.4" y="583.5" width="6.4" height="6.2" fill="url(#gTerm)" stroke="#333" stroke-width="0.7"/>
<rect x="317.8" y="583.5" width="6.4" height="6.2" fill="url(#gTerm)" stroke="#333" stroke-width="0.7"/>
<rect x="272" y="589.5" width="59.6" height="34" fill="#9ab3c6" stroke="#333" stroke-width="0.9"/>
<rect x="276.6" y="597.1" width="13" height="3.4" fill="#e4191e"/>
<rect x="281.4" y="592.0" width="3.4" height="13.5" fill="#e4191e"/>
<rect x="313.8" y="597.1" width="13.5" height="3.4" fill="#21198a"/>
<text x="300.2" y="620.0" font-size="16.4" font-weight="bold" fill="#1a1a1a" >12V</text>
<rect x="276.4" y="625.8" width="6.4" height="6.2" fill="url(#gTerm)" stroke="#333" stroke-width="0.7"/>
<rect x="317.8" y="625.8" width="6.4" height="6.2" fill="url(#gTerm)" stroke="#333" stroke-width="0.7"/>
<rect x="272" y="631.8" width="59.6" height="34" fill="#9ab3c6" stroke="#333" stroke-width="0.9"/>
<rect x="276.6" y="639.4" width="13" height="3.4" fill="#e4191e"/>
<rect x="281.4" y="634.3" width="3.4" height="13.5" fill="#e4191e"/>
<rect x="313.8" y="639.4" width="13.5" height="3.4" fill="#21198a"/>
<text x="300.2" y="662.3" font-size="16.4" font-weight="bold" fill="#1a1a1a" >12V</text>
<rect x="276.4" y="668.0" width="6.4" height="6.2" fill="url(#gTerm)" stroke="#333" stroke-width="0.7"/>
<rect x="317.8" y="668.0" width="6.4" height="6.2" fill="url(#gTerm)" stroke="#333" stroke-width="0.7"/>
<rect x="272" y="674.0" width="59.6" height="34" fill="#9ab3c6" stroke="#333" stroke-width="0.9"/>
<rect x="276.6" y="681.6" width="13" height="3.4" fill="#e4191e"/>
<rect x="281.4" y="676.5" width="3.4" height="13.5" fill="#e4191e"/>
<rect x="313.8" y="681.6" width="13.5" height="3.4" fill="#21198a"/>
<text x="300.2" y="704.5" font-size="16.4" font-weight="bold" fill="#1a1a1a" >12V</text>
<g stroke="#333" stroke-width="0.8" fill="none">
<line x1="563.5" y1="513.3" x2="490.8" y2="647.8"/>
<line x1="563.5" y1="513.3" x2="636.8" y2="647.8"/>
<line x1="563.5" y1="580.7" x2="490.8" y2="647.8"/>
<line x1="563.5" y1="580.7" x2="636.8" y2="647.8"/>
</g>
<rect x="562.2" y="478" width="2.6" height="168" fill="#fbf4c2" stroke="#444" stroke-width="0.6"/>
<rect x="548.9" y="607.8" width="10.4" height="37.8" rx="0.8" fill="#fcf6c6" stroke="#3a3a3a" stroke-width="0.8"/>
<rect x="544.6" y="628.2" width="4.1" height="7" fill="#fcf6c6" stroke="#3a3a3a" stroke-width="0.7"/>
<rect x="559.4" y="625.3" width="2.8" height="3.6" fill="#fcf6c6" stroke="#3a3a3a" stroke-width="0.6"/>
<path d="M575.2,409.5 L574.4,409.5 L574.2,521.5 L575.2,521.5 Z" fill="#3a3a3a" stroke="#3a3a3a" stroke-width="0.7"/>
<path d="M519.4,434.3 L526.2,435.2 Q528.5,436 530,438.5 L535,449.4 L548,457.4 Q552.5,460.5 556.5,460.5 L570.7,460.5 L570.7,471.6 L568.1,474.6 L567.6,479.4 L560.8,479.4 Q557.5,474 554,469 Q548,461 536,453.2 L534.4,452 L518.8,452.9 Z" fill="#fbf4c2" stroke="#3a3a3a" stroke-width="0.75" stroke-linejoin="round"/>
<g transform="translate(527.8,440.3) rotate(55)"><rect x="-3.8" y="-1.7" width="7.6" height="3.4" rx="1.7" fill="#fff" stroke="#333" stroke-width="0.7"/><line x1="0" y1="-1.7" x2="0" y2="1.7" stroke="#333" stroke-width="0.6"/></g>
<ellipse cx="574.7" cy="461.6" rx="1.4" ry="1.2" fill="#333"/>
<ellipse cx="574.7" cy="470.2" rx="1.4" ry="1.2" fill="#333"/>
<path d="M572,461.7 L576,461.7 Q582,462.5 582,465.9 Q582,469.3 576,470.1 L572,470.1 Z" fill="#fbf4c2" stroke="#3a3a3a" stroke-width="0.7"/>
<g>
<rect x="510" y="701.8" width="103" height="64.8" rx="15" fill="#fff" stroke="#111" stroke-width="3"/>
<rect x="555.3" y="708.4" width="9.4" height="3.6" rx="1" fill="#333"/>
<path d="M515,719.5 C518,713 523,711.6 530,711.6 L591,711.6 C598,711.6 603,713 606,719.5 Z" fill="url(#gDome)" stroke="#444" stroke-width="0.7"/>
<rect x="511.6" y="719" width="99.8" height="17" fill="#dc2020"/>
<rect x="516.5" y="723.8" width="21" height="9" fill="#9a9a9a" stroke="#333" stroke-width="0.7"/>
<circle cx="551.6" cy="730" r="2.3" fill="#5a5a5a" stroke="#222" stroke-width="0.5"/><circle cx="558.5" cy="730" r="2.3" fill="#5a5a5a" stroke="#222" stroke-width="0.5"/><circle cx="565.25" cy="730" r="2.3" fill="#5a5a5a" stroke="#222" stroke-width="0.5"/><circle cx="571.8" cy="730" r="2.3" fill="#5a5a5a" stroke="#222" stroke-width="0.5"/>
<rect x="555.2" y="738.4" width="42.7" height="24.7" fill="#141414"/>
<rect x="557.30" y="750" width="0.9" height="11.8" fill="#8a8a8a"/><rect x="559.90" y="750" width="0.9" height="11.8" fill="#8a8a8a"/><rect x="562.50" y="750" width="0.9" height="11.8" fill="#8a8a8a"/><rect x="565.10" y="750" width="0.9" height="11.8" fill="#8a8a8a"/><rect x="567.70" y="750" width="0.9" height="11.8" fill="#8a8a8a"/><rect x="570.30" y="750" width="0.9" height="11.8" fill="#8a8a8a"/><rect x="572.90" y="750" width="0.9" height="11.8" fill="#8a8a8a"/>
<polygon points="589,741.4 583.2,751.2 594.8,751.2" fill="#e41c1c"/>
<polygon points="589,744.8 586.1,749.8 591.9,749.8" fill="#f8e21c"/>
<path d="M534.4,742.3 L545.5,742.3 A8.6,8.6 0 0 1 545.5,759.5 L534.4,759.5 Z" fill="url(#gCyl)"/>
<rect x="535.0" y="738.9" width="1" height="24.7" fill="#222"/><rect x="538.1" y="738.9" width="1" height="24.7" fill="#222"/><rect x="541.4" y="738.9" width="1" height="24.7" fill="#222"/><rect x="544.4" y="738.9" width="1" height="24.7" fill="#222"/><rect x="547.75" y="738.9" width="1" height="24.7" fill="#222"/>
<circle cx="526.7" cy="751.4" r="12.4" fill="url(#gFly)" stroke="#333" stroke-width="0.8"/>
<circle cx="526.7" cy="751.4" r="3.6" fill="#ddd" stroke="#333" stroke-width="0.8"/>
</g>
<g fill="none" stroke="#ee7813" stroke-width="1.7" stroke-linejoin="miter"><path d="M46,133.4 H1.5 V755 H96.9 V703"/><path d="M62,331.25 H15 V742 H83.1 V703"/><path d="M85,452.6 H28.5 V729.4 H69.4 V703"/><path d="M110.4,712 V780 H362 M372,771 L362,780.5 L372,790"/><path d="M124,712 V767 H476 V728.3 H508.7"/><path d="M137.7,712 V754 H433 V631.6 H545"/><path d="M151.7,712 V741.5 H388 V452.5"/><path d="M165.5,712 V728.5 H276.9 V671 H293.4"/><path d="M252,728.5 V533 H321 V542"/><line x1="280" y1="544.2" x2="321" y2="586.5"/><line x1="280" y1="586.5" x2="321" y2="628.8"/><line x1="280" y1="628.8" x2="321" y2="671.0"/></g>
<polygon points="56.3,133.4 45.3,128.4 46.3,133.4 45.3,138.4" fill="#ee7813"/><polygon points="72.5,331.25 61.5,326.25 62.5,331.25 61.5,336.25" fill="#ee7813"/><polygon points="96,452.6 85,447.6 86,452.6 85,457.6" fill="#ee7813"/><polygon points="110.4,703.5 115.4,714.9 110.4,713.9 105.4,714.9" fill="#ee7813"/><polygon points="124,703.5 129.0,714.9 124,713.9 119.0,714.9" fill="#ee7813"/><polygon points="137.7,703.5 142.7,714.9 137.7,713.9 132.7,714.9" fill="#ee7813"/><polygon points="151.7,703.5 156.7,714.9 151.7,713.9 146.7,714.9" fill="#ee7813"/><polygon points="165.5,703.5 170.5,714.9 165.5,713.9 160.5,714.9" fill="#ee7813"/>

</svg>
</body></html>
